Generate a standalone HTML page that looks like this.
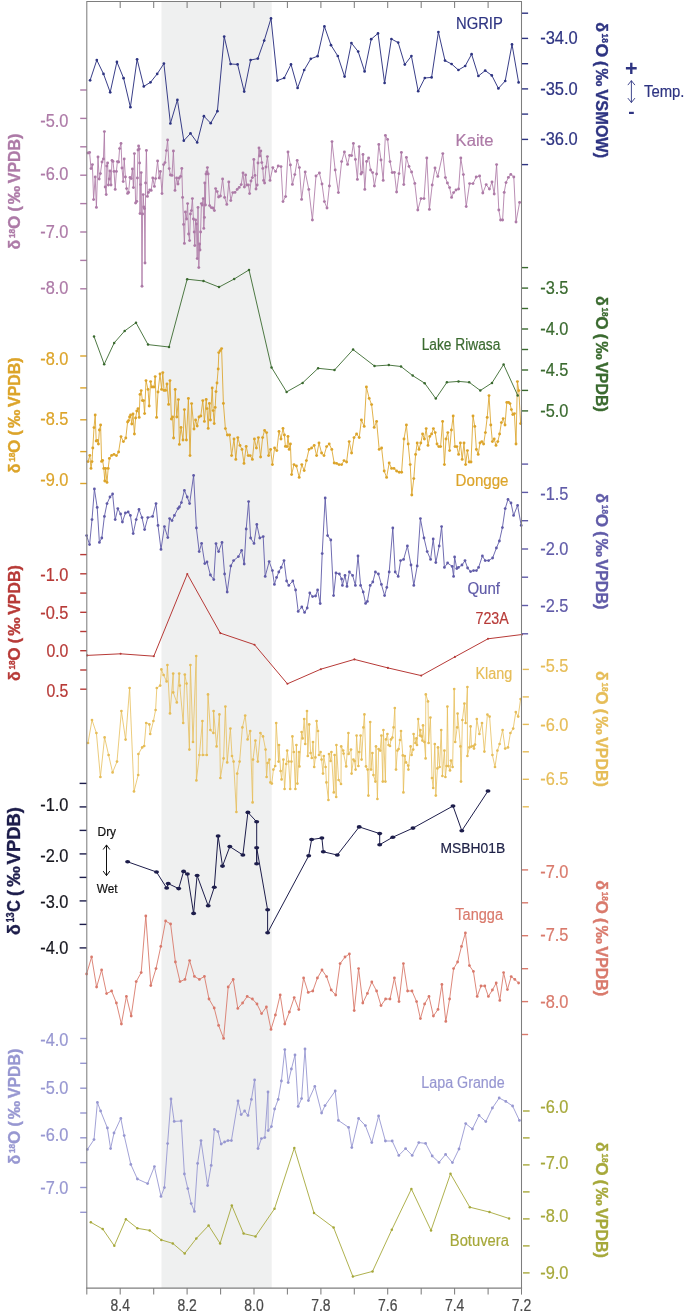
<!DOCTYPE html>
<html lang="en"><head><meta charset="utf-8"><title>Holocene 8.2 ka proxy records</title>
<style>html,body{margin:0;padding:0;background:#fff}svg{display:block}text{font-family:"Liberation Sans",sans-serif}.b{font-weight:bold}</style></head><body>
<svg width="685" height="1314" viewBox="0 0 685 1314">
<rect width="685" height="1314" fill="#fff"/>
<rect x="161.5" y="1.5" width="110.2" height="1286.6" fill="#eff0f0"/>
<polyline points="90.8,1222.3 102.7,1229.0 114.3,1245.8 125.9,1219.2 137.4,1228.3 149.7,1230.4 161.3,1239.9 172.8,1243.4 184.7,1253.5 196.3,1238.5 208.6,1225.5 220.1,1243.4 231.8,1205.5 243.6,1233.6 255.5,1236.4 274.5,1208.8 294.3,1148.0 314.0,1213.0 333.6,1227.6 352.9,1276.6 372.5,1271.4 391.8,1229.7 411.4,1189.0 431.0,1230.4 450.5,1173.8 469.8,1207.2 489.5,1212.1 509.1,1218.5" fill="none" stroke="#a6a83a" stroke-width="0.9" stroke-linejoin="round"/>
<g fill="#a6a83a">
<circle cx="90.8" cy="1222.3" r="1.25"/><circle cx="102.7" cy="1229.0" r="1.25"/><circle cx="114.3" cy="1245.8" r="1.25"/><circle cx="125.9" cy="1219.2" r="1.25"/><circle cx="137.4" cy="1228.3" r="1.25"/><circle cx="149.7" cy="1230.4" r="1.25"/><circle cx="161.3" cy="1239.9" r="1.25"/><circle cx="172.8" cy="1243.4" r="1.25"/><circle cx="184.7" cy="1253.5" r="1.25"/><circle cx="196.3" cy="1238.5" r="1.25"/><circle cx="208.6" cy="1225.5" r="1.25"/><circle cx="220.1" cy="1243.4" r="1.25"/><circle cx="231.8" cy="1205.5" r="1.25"/><circle cx="243.6" cy="1233.6" r="1.25"/><circle cx="255.5" cy="1236.4" r="1.25"/><circle cx="274.5" cy="1208.8" r="1.25"/><circle cx="294.3" cy="1148.0" r="1.25"/><circle cx="314.0" cy="1213.0" r="1.25"/><circle cx="333.6" cy="1227.6" r="1.25"/><circle cx="352.9" cy="1276.6" r="1.25"/><circle cx="372.5" cy="1271.4" r="1.25"/><circle cx="391.8" cy="1229.7" r="1.25"/><circle cx="411.4" cy="1189.0" r="1.25"/><circle cx="431.0" cy="1230.4" r="1.25"/><circle cx="450.5" cy="1173.8" r="1.25"/><circle cx="469.8" cy="1207.2" r="1.25"/><circle cx="489.5" cy="1212.1" r="1.25"/><circle cx="509.1" cy="1218.5" r="1.25"/>
</g>
<polyline points="87.4,1149.4 94.0,1139.6 97.4,1102.4 100.6,1111.0 107.4,1128.0 110.6,1148.6 114.0,1133.0 120.8,1118.4 124.2,1135.6 130.8,1164.4 137.4,1179.0 147.6,1183.6 154.4,1166.6 161.0,1196.4 164.4,1187.6 167.6,1143.6 171.0,1099.0 174.2,1121.4 181.2,1121.0 184.4,1174.0 187.8,1188.6 191.2,1203.6 194.4,1211.4 197.6,1163.4 201.0,1140.6 207.6,1185.6 211.2,1165.4 214.4,1129.4 218.0,1131.6 221.2,1144.0 224.6,1142.0 228.0,1140.6 231.4,1140.6 238.0,1101.0 241.2,1114.6 244.6,1111.0 248.0,1115.4 251.4,1099.4 254.6,1080.0 258.0,1148.6 261.4,1138.6 264.8,1137.6 268.0,1092.0 268.2,1130.6 271.4,1126.6 274.6,1109.0 278.2,1099.4 281.4,1081.0 284.8,1049.6 288.2,1082.6 291.4,1069.0 295.0,1055.0 298.2,1106.4 301.6,1098.6 305.0,1049.0 308.4,1100.6 314.8,1086.4 321.6,1113.0 325.0,1105.6 335.2,1091.0 338.4,1120.4 348.6,1127.4 351.8,1147.6 358.6,1118.4 365.4,1125.6 371.8,1142.6 378.6,1116.0 385.4,1141.0 392.2,1141.0 398.8,1155.4 405.6,1148.6 412.2,1155.4 418.8,1142.6 425.6,1143.4 432.2,1156.0 439.0,1162.4 445.6,1154.4 452.4,1162.6 459.0,1149.0 465.7,1123.6 472.4,1129.0 479.0,1115.4 485.8,1121.6 492.4,1108.0 499.2,1098.0 505.8,1101.4 512.6,1106.0 519.4,1120.4" fill="none" stroke="#9797d1" stroke-width="0.9" stroke-linejoin="round"/>
<g fill="#9797d1">
<circle cx="87.4" cy="1149.4" r="1.4"/><circle cx="94.0" cy="1139.6" r="1.4"/><circle cx="97.4" cy="1102.4" r="1.4"/><circle cx="100.6" cy="1111.0" r="1.4"/><circle cx="107.4" cy="1128.0" r="1.4"/><circle cx="110.6" cy="1148.6" r="1.4"/><circle cx="114.0" cy="1133.0" r="1.4"/><circle cx="120.8" cy="1118.4" r="1.4"/><circle cx="124.2" cy="1135.6" r="1.4"/><circle cx="130.8" cy="1164.4" r="1.4"/><circle cx="137.4" cy="1179.0" r="1.4"/><circle cx="147.6" cy="1183.6" r="1.4"/><circle cx="154.4" cy="1166.6" r="1.4"/><circle cx="161.0" cy="1196.4" r="1.4"/><circle cx="164.4" cy="1187.6" r="1.4"/><circle cx="167.6" cy="1143.6" r="1.4"/><circle cx="171.0" cy="1099.0" r="1.4"/><circle cx="174.2" cy="1121.4" r="1.4"/><circle cx="181.2" cy="1121.0" r="1.4"/><circle cx="184.4" cy="1174.0" r="1.4"/><circle cx="187.8" cy="1188.6" r="1.4"/><circle cx="191.2" cy="1203.6" r="1.4"/><circle cx="194.4" cy="1211.4" r="1.4"/><circle cx="197.6" cy="1163.4" r="1.4"/><circle cx="201.0" cy="1140.6" r="1.4"/><circle cx="207.6" cy="1185.6" r="1.4"/><circle cx="211.2" cy="1165.4" r="1.4"/><circle cx="214.4" cy="1129.4" r="1.4"/><circle cx="218.0" cy="1131.6" r="1.4"/><circle cx="221.2" cy="1144.0" r="1.4"/><circle cx="224.6" cy="1142.0" r="1.4"/><circle cx="228.0" cy="1140.6" r="1.4"/><circle cx="231.4" cy="1140.6" r="1.4"/><circle cx="238.0" cy="1101.0" r="1.4"/><circle cx="241.2" cy="1114.6" r="1.4"/><circle cx="244.6" cy="1111.0" r="1.4"/><circle cx="248.0" cy="1115.4" r="1.4"/><circle cx="251.4" cy="1099.4" r="1.4"/><circle cx="254.6" cy="1080.0" r="1.4"/><circle cx="258.0" cy="1148.6" r="1.4"/><circle cx="261.4" cy="1138.6" r="1.4"/><circle cx="264.8" cy="1137.6" r="1.4"/><circle cx="268.0" cy="1092.0" r="1.4"/><circle cx="268.2" cy="1130.6" r="1.4"/><circle cx="271.4" cy="1126.6" r="1.4"/><circle cx="274.6" cy="1109.0" r="1.4"/><circle cx="278.2" cy="1099.4" r="1.4"/><circle cx="281.4" cy="1081.0" r="1.4"/><circle cx="284.8" cy="1049.6" r="1.4"/><circle cx="288.2" cy="1082.6" r="1.4"/><circle cx="291.4" cy="1069.0" r="1.4"/><circle cx="295.0" cy="1055.0" r="1.4"/><circle cx="298.2" cy="1106.4" r="1.4"/><circle cx="301.6" cy="1098.6" r="1.4"/><circle cx="305.0" cy="1049.0" r="1.4"/><circle cx="308.4" cy="1100.6" r="1.4"/><circle cx="314.8" cy="1086.4" r="1.4"/><circle cx="321.6" cy="1113.0" r="1.4"/><circle cx="325.0" cy="1105.6" r="1.4"/><circle cx="335.2" cy="1091.0" r="1.4"/><circle cx="338.4" cy="1120.4" r="1.4"/><circle cx="348.6" cy="1127.4" r="1.4"/><circle cx="351.8" cy="1147.6" r="1.4"/><circle cx="358.6" cy="1118.4" r="1.4"/><circle cx="365.4" cy="1125.6" r="1.4"/><circle cx="371.8" cy="1142.6" r="1.4"/><circle cx="378.6" cy="1116.0" r="1.4"/><circle cx="385.4" cy="1141.0" r="1.4"/><circle cx="392.2" cy="1141.0" r="1.4"/><circle cx="398.8" cy="1155.4" r="1.4"/><circle cx="405.6" cy="1148.6" r="1.4"/><circle cx="412.2" cy="1155.4" r="1.4"/><circle cx="418.8" cy="1142.6" r="1.4"/><circle cx="425.6" cy="1143.4" r="1.4"/><circle cx="432.2" cy="1156.0" r="1.4"/><circle cx="439.0" cy="1162.4" r="1.4"/><circle cx="445.6" cy="1154.4" r="1.4"/><circle cx="452.4" cy="1162.6" r="1.4"/><circle cx="459.0" cy="1149.0" r="1.4"/><circle cx="465.7" cy="1123.6" r="1.4"/><circle cx="472.4" cy="1129.0" r="1.4"/><circle cx="479.0" cy="1115.4" r="1.4"/><circle cx="485.8" cy="1121.6" r="1.4"/><circle cx="492.4" cy="1108.0" r="1.4"/><circle cx="499.2" cy="1098.0" r="1.4"/><circle cx="505.8" cy="1101.4" r="1.4"/><circle cx="512.6" cy="1106.0" r="1.4"/><circle cx="519.4" cy="1120.4" r="1.4"/>
</g>
<polyline points="86.6,974.0 91.6,957.0 96.6,987.0 101.6,970.0 106.6,993.6 111.6,991.0 116.4,1003.0 121.4,1024.0 126.4,996.4 131.2,1016.0 136.2,981.6 141.2,972.6 145.8,916.0 150.8,985.6 156.0,968.6 160.8,946.4 165.6,921.0 170.6,924.0 175.4,962.0 180.0,981.6 185.0,979.4 189.6,960.6 194.4,976.4 199.4,979.4 204.4,976.4 209.0,999.0 214.2,1008.0 218.6,1025.4 223.6,1038.4 228.2,987.0 233.2,979.4 237.8,1008.4 242.6,1003.0 247.2,996.4 252.4,999.0 257.0,1004.0 261.6,1013.6 266.4,1007.0 271.0,1029.4 275.4,1015.0 280.2,995.0 284.8,1024.0 289.4,1012.0 294.2,997.6 298.8,1009.6 303.6,978.0 308.2,992.4 312.8,991.0 317.4,978.0 322.0,970.0 326.6,976.6 331.2,990.0 335.7,995.0 340.1,963.6 345.0,957.0 349.4,954.0 354.2,1010.6 358.6,968.6 362.8,1003.0 367.4,993.4 371.8,982.0 376.6,991.0 381.0,1005.6 385.6,999.0 390.0,999.0 394.4,978.0 399.0,1001.6 403.4,963.6 407.6,991.0 412.0,991.0 416.6,1001.6 420.4,1018.6 424.6,1004.0 429.0,996.4 433.4,1016.0 438.0,1009.4 441.9,984.4 445.8,1021.4 449.6,999.0 453.6,968.6 457.6,962.0 461.5,946.4 465.4,933.0 469.4,965.6 473.4,971.4 477.2,996.4 481.0,986.0 484.8,986.0 488.4,996.4 492.4,990.0 496.2,983.0 499.8,1000.4 503.6,972.6 507.4,989.6 511.2,976.6 514.8,979.4 518.6,983.0" fill="none" stroke="#d97a6c" stroke-width="0.9" stroke-linejoin="round"/>
<g fill="#d97a6c">
<circle cx="86.6" cy="974.0" r="1.4"/><circle cx="91.6" cy="957.0" r="1.4"/><circle cx="96.6" cy="987.0" r="1.4"/><circle cx="101.6" cy="970.0" r="1.4"/><circle cx="106.6" cy="993.6" r="1.4"/><circle cx="111.6" cy="991.0" r="1.4"/><circle cx="116.4" cy="1003.0" r="1.4"/><circle cx="121.4" cy="1024.0" r="1.4"/><circle cx="126.4" cy="996.4" r="1.4"/><circle cx="131.2" cy="1016.0" r="1.4"/><circle cx="136.2" cy="981.6" r="1.4"/><circle cx="141.2" cy="972.6" r="1.4"/><circle cx="145.8" cy="916.0" r="1.4"/><circle cx="150.8" cy="985.6" r="1.4"/><circle cx="156.0" cy="968.6" r="1.4"/><circle cx="160.8" cy="946.4" r="1.4"/><circle cx="165.6" cy="921.0" r="1.4"/><circle cx="170.6" cy="924.0" r="1.4"/><circle cx="175.4" cy="962.0" r="1.4"/><circle cx="180.0" cy="981.6" r="1.4"/><circle cx="185.0" cy="979.4" r="1.4"/><circle cx="189.6" cy="960.6" r="1.4"/><circle cx="194.4" cy="976.4" r="1.4"/><circle cx="199.4" cy="979.4" r="1.4"/><circle cx="204.4" cy="976.4" r="1.4"/><circle cx="209.0" cy="999.0" r="1.4"/><circle cx="214.2" cy="1008.0" r="1.4"/><circle cx="218.6" cy="1025.4" r="1.4"/><circle cx="223.6" cy="1038.4" r="1.4"/><circle cx="228.2" cy="987.0" r="1.4"/><circle cx="233.2" cy="979.4" r="1.4"/><circle cx="237.8" cy="1008.4" r="1.4"/><circle cx="242.6" cy="1003.0" r="1.4"/><circle cx="247.2" cy="996.4" r="1.4"/><circle cx="252.4" cy="999.0" r="1.4"/><circle cx="257.0" cy="1004.0" r="1.4"/><circle cx="261.6" cy="1013.6" r="1.4"/><circle cx="266.4" cy="1007.0" r="1.4"/><circle cx="271.0" cy="1029.4" r="1.4"/><circle cx="275.4" cy="1015.0" r="1.4"/><circle cx="280.2" cy="995.0" r="1.4"/><circle cx="284.8" cy="1024.0" r="1.4"/><circle cx="289.4" cy="1012.0" r="1.4"/><circle cx="294.2" cy="997.6" r="1.4"/><circle cx="298.8" cy="1009.6" r="1.4"/><circle cx="303.6" cy="978.0" r="1.4"/><circle cx="308.2" cy="992.4" r="1.4"/><circle cx="312.8" cy="991.0" r="1.4"/><circle cx="317.4" cy="978.0" r="1.4"/><circle cx="322.0" cy="970.0" r="1.4"/><circle cx="326.6" cy="976.6" r="1.4"/><circle cx="331.2" cy="990.0" r="1.4"/><circle cx="335.7" cy="995.0" r="1.4"/><circle cx="340.1" cy="963.6" r="1.4"/><circle cx="345.0" cy="957.0" r="1.4"/><circle cx="349.4" cy="954.0" r="1.4"/><circle cx="354.2" cy="1010.6" r="1.4"/><circle cx="358.6" cy="968.6" r="1.4"/><circle cx="362.8" cy="1003.0" r="1.4"/><circle cx="367.4" cy="993.4" r="1.4"/><circle cx="371.8" cy="982.0" r="1.4"/><circle cx="376.6" cy="991.0" r="1.4"/><circle cx="381.0" cy="1005.6" r="1.4"/><circle cx="385.6" cy="999.0" r="1.4"/><circle cx="390.0" cy="999.0" r="1.4"/><circle cx="394.4" cy="978.0" r="1.4"/><circle cx="399.0" cy="1001.6" r="1.4"/><circle cx="403.4" cy="963.6" r="1.4"/><circle cx="407.6" cy="991.0" r="1.4"/><circle cx="412.0" cy="991.0" r="1.4"/><circle cx="416.6" cy="1001.6" r="1.4"/><circle cx="420.4" cy="1018.6" r="1.4"/><circle cx="424.6" cy="1004.0" r="1.4"/><circle cx="429.0" cy="996.4" r="1.4"/><circle cx="433.4" cy="1016.0" r="1.4"/><circle cx="438.0" cy="1009.4" r="1.4"/><circle cx="441.9" cy="984.4" r="1.4"/><circle cx="445.8" cy="1021.4" r="1.4"/><circle cx="449.6" cy="999.0" r="1.4"/><circle cx="453.6" cy="968.6" r="1.4"/><circle cx="457.6" cy="962.0" r="1.4"/><circle cx="461.5" cy="946.4" r="1.4"/><circle cx="465.4" cy="933.0" r="1.4"/><circle cx="469.4" cy="965.6" r="1.4"/><circle cx="473.4" cy="971.4" r="1.4"/><circle cx="477.2" cy="996.4" r="1.4"/><circle cx="481.0" cy="986.0" r="1.4"/><circle cx="484.8" cy="986.0" r="1.4"/><circle cx="488.4" cy="996.4" r="1.4"/><circle cx="492.4" cy="990.0" r="1.4"/><circle cx="496.2" cy="983.0" r="1.4"/><circle cx="499.8" cy="1000.4" r="1.4"/><circle cx="503.6" cy="972.6" r="1.4"/><circle cx="507.4" cy="989.6" r="1.4"/><circle cx="511.2" cy="976.6" r="1.4"/><circle cx="514.8" cy="979.4" r="1.4"/><circle cx="518.6" cy="983.0" r="1.4"/>
</g>
<polyline points="88.0,743.0 92.0,720.0 96.4,733.0 100.4,777.0 104.6,737.4 108.6,755.0 112.6,772.4 117.0,761.6 121.4,711.0 125.6,739.6 129.6,688.0 134.0,791.4 138.2,775.0 138.4,754.0 142.2,747.4 144.2,746.0 146.2,723.0 149.4,724.4 150.2,734.0 153.4,721.0 155.6,710.0 156.8,688.0 160.2,685.6 161.4,669.4 163.6,675.0 166.6,681.4 167.4,665.0 170.0,713.4 173.2,673.6 173.2,692.4 176.8,702.4 179.2,673.6 179.8,685.6 183.2,723.0 184.8,674.6 186.6,683.6 189.4,749.6 190.4,665.0 193.0,742.0 196.2,656.0 196.4,780.4 199.4,755.0 202.4,721.0 202.8,755.0 206.8,755.0 208.0,694.4 210.4,730.0 213.4,733.0 213.6,711.0 216.6,746.4 219.4,714.4 220.4,778.0 223.6,758.4 225.4,706.6 227.2,762.4 230.4,728.6 232.0,756.0 233.6,761.6 236.4,812.0 237.2,773.6 239.6,761.6 242.4,727.4 245.2,715.6 247.6,739.4 250.2,731.0 252.6,802.4 253.0,759.6 255.4,740.6 257.8,761.6 260.4,733.0 263.0,736.4 265.6,749.6 266.6,777.0 267.6,763.0 269.4,759.6 270.4,782.4 271.8,783.6 273.4,769.6 275.2,766.0 276.2,723.0 278.6,761.6 279.0,745.0 280.6,771.0 281.6,779.4 283.4,759.6 284.6,789.0 286.2,764.0 287.2,750.6 288.6,761.6 290.2,789.0 291.4,761.6 292.4,736.4 293.8,752.0 295.4,789.0 296.4,745.0 297.4,783.6 299.0,752.0 299.4,766.4 301.6,732.0 302.6,738.4 304.2,719.0 305.2,744.0 307.0,711.0 307.8,756.0 309.2,724.4 310.6,753.0 311.8,758.0 313.0,742.0 314.2,767.0 315.4,757.4 316.6,721.0 318.0,731.0 319.0,755.0 320.6,752.0 321.6,759.6 323.0,773.6 323.8,756.0 325.6,767.0 326.4,782.4 328.4,800.0 329.0,754.0 330.6,761.0 331.4,752.0 333.8,792.4 334.6,755.0 336.2,797.0 336.4,745.0 338.6,780.0 341.0,784.0 341.2,746.4 343.2,750.6 343.6,753.6 346.2,766.4 348.4,733.0 348.6,754.0 351.0,749.6 351.6,773.6 353.4,759.6 354.6,761.0 355.6,769.6 356.6,735.6 358.4,766.0 359.2,752.0 360.6,735.6 361.6,759.6 363.4,727.4 364.4,714.4 366.0,766.4 367.6,769.6 368.4,795.6 370.2,722.0 371.0,769.6 372.4,753.0 373.4,775.0 375.4,781.6 376.0,746.4 377.4,799.0 378.6,749.0 380.2,750.6 381.4,735.6 382.8,781.6 383.4,730.0 385.4,781.6 386.0,739.4 387.4,734.0 388.6,745.0 390.0,746.0 391.0,739.4 392.4,737.6 393.6,727.4 394.8,708.0 396.0,769.6 397.4,750.6 398.6,749.0 400.0,740.0 401.0,731.0 402.8,755.4 403.4,792.4 404.8,756.0 406.0,762.4 408.2,765.6 408.4,769.6 410.6,746.4 411.6,755.0 413.2,749.6 413.6,734.0 415.4,743.0 416.4,738.4 417.0,745.0 418.2,719.0 420.0,735.6 420.4,730.0 421.6,736.4 422.4,740.6 423.0,725.4 424.4,742.0 425.6,758.4 425.8,694.4 428.0,701.4 428.6,743.0 430.4,717.6 432.0,778.0 433.2,788.0 434.8,744.0 435.8,795.6 437.4,768.4 438.0,747.4 439.6,767.0 441.2,730.0 442.4,776.0 444.4,750.6 445.4,777.0 446.6,766.0 447.4,706.6 448.4,766.0 450.0,770.4 451.0,760.6 452.6,767.0 454.2,689.0 455.2,742.0 457.2,727.4 457.6,713.6 460.4,746.4 461.0,781.6 462.4,720.0 464.4,703.6 465.6,723.0 467.4,687.0 467.4,756.0 469.4,747.4 470.6,726.4 471.4,746.6 473.4,746.0 474.0,748.6 475.0,744.6 476.8,719.0 479.4,734.0 482.0,723.0 484.4,751.6 487.4,714.6 489.6,716.6 492.4,755.0 495.0,767.0 497.4,750.6 499.6,744.0 502.6,730.0 505.2,748.6 508.0,747.4 510.4,733.0 513.2,728.6 515.8,712.0 518.2,716.6 520.6,699.0" fill="none" stroke="#e6bd58" stroke-width="0.78" stroke-linejoin="round"/>
<g fill="#e6bd58">
<circle cx="88.0" cy="743.0" r="1.35"/><circle cx="92.0" cy="720.0" r="1.35"/><circle cx="96.4" cy="733.0" r="1.35"/><circle cx="100.4" cy="777.0" r="1.35"/><circle cx="104.6" cy="737.4" r="1.35"/><circle cx="108.6" cy="755.0" r="1.35"/><circle cx="112.6" cy="772.4" r="1.35"/><circle cx="117.0" cy="761.6" r="1.35"/><circle cx="121.4" cy="711.0" r="1.35"/><circle cx="125.6" cy="739.6" r="1.35"/><circle cx="129.6" cy="688.0" r="1.35"/><circle cx="134.0" cy="791.4" r="1.35"/><circle cx="138.2" cy="775.0" r="1.35"/><circle cx="138.4" cy="754.0" r="1.35"/><circle cx="142.2" cy="747.4" r="1.35"/><circle cx="144.2" cy="746.0" r="1.35"/><circle cx="146.2" cy="723.0" r="1.35"/><circle cx="149.4" cy="724.4" r="1.35"/><circle cx="150.2" cy="734.0" r="1.35"/><circle cx="153.4" cy="721.0" r="1.35"/><circle cx="155.6" cy="710.0" r="1.35"/><circle cx="156.8" cy="688.0" r="1.35"/><circle cx="160.2" cy="685.6" r="1.35"/><circle cx="161.4" cy="669.4" r="1.35"/><circle cx="163.6" cy="675.0" r="1.35"/><circle cx="166.6" cy="681.4" r="1.35"/><circle cx="167.4" cy="665.0" r="1.35"/><circle cx="170.0" cy="713.4" r="1.35"/><circle cx="173.2" cy="673.6" r="1.35"/><circle cx="173.2" cy="692.4" r="1.35"/><circle cx="176.8" cy="702.4" r="1.35"/><circle cx="179.2" cy="673.6" r="1.35"/><circle cx="179.8" cy="685.6" r="1.35"/><circle cx="183.2" cy="723.0" r="1.35"/><circle cx="184.8" cy="674.6" r="1.35"/><circle cx="186.6" cy="683.6" r="1.35"/><circle cx="189.4" cy="749.6" r="1.35"/><circle cx="190.4" cy="665.0" r="1.35"/><circle cx="193.0" cy="742.0" r="1.35"/><circle cx="196.2" cy="656.0" r="1.35"/><circle cx="196.4" cy="780.4" r="1.35"/><circle cx="199.4" cy="755.0" r="1.35"/><circle cx="202.4" cy="721.0" r="1.35"/><circle cx="202.8" cy="755.0" r="1.35"/><circle cx="206.8" cy="755.0" r="1.35"/><circle cx="208.0" cy="694.4" r="1.35"/><circle cx="210.4" cy="730.0" r="1.35"/><circle cx="213.4" cy="733.0" r="1.35"/><circle cx="213.6" cy="711.0" r="1.35"/><circle cx="216.6" cy="746.4" r="1.35"/><circle cx="219.4" cy="714.4" r="1.35"/><circle cx="220.4" cy="778.0" r="1.35"/><circle cx="223.6" cy="758.4" r="1.35"/><circle cx="225.4" cy="706.6" r="1.35"/><circle cx="227.2" cy="762.4" r="1.35"/><circle cx="230.4" cy="728.6" r="1.35"/><circle cx="232.0" cy="756.0" r="1.35"/><circle cx="233.6" cy="761.6" r="1.35"/><circle cx="236.4" cy="812.0" r="1.35"/><circle cx="237.2" cy="773.6" r="1.35"/><circle cx="239.6" cy="761.6" r="1.35"/><circle cx="242.4" cy="727.4" r="1.35"/><circle cx="245.2" cy="715.6" r="1.35"/><circle cx="247.6" cy="739.4" r="1.35"/><circle cx="250.2" cy="731.0" r="1.35"/><circle cx="252.6" cy="802.4" r="1.35"/><circle cx="253.0" cy="759.6" r="1.35"/><circle cx="255.4" cy="740.6" r="1.35"/><circle cx="257.8" cy="761.6" r="1.35"/><circle cx="260.4" cy="733.0" r="1.35"/><circle cx="263.0" cy="736.4" r="1.35"/><circle cx="265.6" cy="749.6" r="1.35"/><circle cx="266.6" cy="777.0" r="1.35"/><circle cx="267.6" cy="763.0" r="1.35"/><circle cx="269.4" cy="759.6" r="1.35"/><circle cx="270.4" cy="782.4" r="1.35"/><circle cx="271.8" cy="783.6" r="1.35"/><circle cx="273.4" cy="769.6" r="1.35"/><circle cx="275.2" cy="766.0" r="1.35"/><circle cx="276.2" cy="723.0" r="1.35"/><circle cx="278.6" cy="761.6" r="1.35"/><circle cx="279.0" cy="745.0" r="1.35"/><circle cx="280.6" cy="771.0" r="1.35"/><circle cx="281.6" cy="779.4" r="1.35"/><circle cx="283.4" cy="759.6" r="1.35"/><circle cx="284.6" cy="789.0" r="1.35"/><circle cx="286.2" cy="764.0" r="1.35"/><circle cx="287.2" cy="750.6" r="1.35"/><circle cx="288.6" cy="761.6" r="1.35"/><circle cx="290.2" cy="789.0" r="1.35"/><circle cx="291.4" cy="761.6" r="1.35"/><circle cx="292.4" cy="736.4" r="1.35"/><circle cx="293.8" cy="752.0" r="1.35"/><circle cx="295.4" cy="789.0" r="1.35"/><circle cx="296.4" cy="745.0" r="1.35"/><circle cx="297.4" cy="783.6" r="1.35"/><circle cx="299.0" cy="752.0" r="1.35"/><circle cx="299.4" cy="766.4" r="1.35"/><circle cx="301.6" cy="732.0" r="1.35"/><circle cx="302.6" cy="738.4" r="1.35"/><circle cx="304.2" cy="719.0" r="1.35"/><circle cx="305.2" cy="744.0" r="1.35"/><circle cx="307.0" cy="711.0" r="1.35"/><circle cx="307.8" cy="756.0" r="1.35"/><circle cx="309.2" cy="724.4" r="1.35"/><circle cx="310.6" cy="753.0" r="1.35"/><circle cx="311.8" cy="758.0" r="1.35"/><circle cx="313.0" cy="742.0" r="1.35"/><circle cx="314.2" cy="767.0" r="1.35"/><circle cx="315.4" cy="757.4" r="1.35"/><circle cx="316.6" cy="721.0" r="1.35"/><circle cx="318.0" cy="731.0" r="1.35"/><circle cx="319.0" cy="755.0" r="1.35"/><circle cx="320.6" cy="752.0" r="1.35"/><circle cx="321.6" cy="759.6" r="1.35"/><circle cx="323.0" cy="773.6" r="1.35"/><circle cx="323.8" cy="756.0" r="1.35"/><circle cx="325.6" cy="767.0" r="1.35"/><circle cx="326.4" cy="782.4" r="1.35"/><circle cx="328.4" cy="800.0" r="1.35"/><circle cx="329.0" cy="754.0" r="1.35"/><circle cx="330.6" cy="761.0" r="1.35"/><circle cx="331.4" cy="752.0" r="1.35"/><circle cx="333.8" cy="792.4" r="1.35"/><circle cx="334.6" cy="755.0" r="1.35"/><circle cx="336.2" cy="797.0" r="1.35"/><circle cx="336.4" cy="745.0" r="1.35"/><circle cx="338.6" cy="780.0" r="1.35"/><circle cx="341.0" cy="784.0" r="1.35"/><circle cx="341.2" cy="746.4" r="1.35"/><circle cx="343.2" cy="750.6" r="1.35"/><circle cx="343.6" cy="753.6" r="1.35"/><circle cx="346.2" cy="766.4" r="1.35"/><circle cx="348.4" cy="733.0" r="1.35"/><circle cx="348.6" cy="754.0" r="1.35"/><circle cx="351.0" cy="749.6" r="1.35"/><circle cx="351.6" cy="773.6" r="1.35"/><circle cx="353.4" cy="759.6" r="1.35"/><circle cx="354.6" cy="761.0" r="1.35"/><circle cx="355.6" cy="769.6" r="1.35"/><circle cx="356.6" cy="735.6" r="1.35"/><circle cx="358.4" cy="766.0" r="1.35"/><circle cx="359.2" cy="752.0" r="1.35"/><circle cx="360.6" cy="735.6" r="1.35"/><circle cx="361.6" cy="759.6" r="1.35"/><circle cx="363.4" cy="727.4" r="1.35"/><circle cx="364.4" cy="714.4" r="1.35"/><circle cx="366.0" cy="766.4" r="1.35"/><circle cx="367.6" cy="769.6" r="1.35"/><circle cx="368.4" cy="795.6" r="1.35"/><circle cx="370.2" cy="722.0" r="1.35"/><circle cx="371.0" cy="769.6" r="1.35"/><circle cx="372.4" cy="753.0" r="1.35"/><circle cx="373.4" cy="775.0" r="1.35"/><circle cx="375.4" cy="781.6" r="1.35"/><circle cx="376.0" cy="746.4" r="1.35"/><circle cx="377.4" cy="799.0" r="1.35"/><circle cx="378.6" cy="749.0" r="1.35"/><circle cx="380.2" cy="750.6" r="1.35"/><circle cx="381.4" cy="735.6" r="1.35"/><circle cx="382.8" cy="781.6" r="1.35"/><circle cx="383.4" cy="730.0" r="1.35"/><circle cx="385.4" cy="781.6" r="1.35"/><circle cx="386.0" cy="739.4" r="1.35"/><circle cx="387.4" cy="734.0" r="1.35"/><circle cx="388.6" cy="745.0" r="1.35"/><circle cx="390.0" cy="746.0" r="1.35"/><circle cx="391.0" cy="739.4" r="1.35"/><circle cx="392.4" cy="737.6" r="1.35"/><circle cx="393.6" cy="727.4" r="1.35"/><circle cx="394.8" cy="708.0" r="1.35"/><circle cx="396.0" cy="769.6" r="1.35"/><circle cx="397.4" cy="750.6" r="1.35"/><circle cx="398.6" cy="749.0" r="1.35"/><circle cx="400.0" cy="740.0" r="1.35"/><circle cx="401.0" cy="731.0" r="1.35"/><circle cx="402.8" cy="755.4" r="1.35"/><circle cx="403.4" cy="792.4" r="1.35"/><circle cx="404.8" cy="756.0" r="1.35"/><circle cx="406.0" cy="762.4" r="1.35"/><circle cx="408.2" cy="765.6" r="1.35"/><circle cx="408.4" cy="769.6" r="1.35"/><circle cx="410.6" cy="746.4" r="1.35"/><circle cx="411.6" cy="755.0" r="1.35"/><circle cx="413.2" cy="749.6" r="1.35"/><circle cx="413.6" cy="734.0" r="1.35"/><circle cx="415.4" cy="743.0" r="1.35"/><circle cx="416.4" cy="738.4" r="1.35"/><circle cx="417.0" cy="745.0" r="1.35"/><circle cx="418.2" cy="719.0" r="1.35"/><circle cx="420.0" cy="735.6" r="1.35"/><circle cx="420.4" cy="730.0" r="1.35"/><circle cx="421.6" cy="736.4" r="1.35"/><circle cx="422.4" cy="740.6" r="1.35"/><circle cx="423.0" cy="725.4" r="1.35"/><circle cx="424.4" cy="742.0" r="1.35"/><circle cx="425.6" cy="758.4" r="1.35"/><circle cx="425.8" cy="694.4" r="1.35"/><circle cx="428.0" cy="701.4" r="1.35"/><circle cx="428.6" cy="743.0" r="1.35"/><circle cx="430.4" cy="717.6" r="1.35"/><circle cx="432.0" cy="778.0" r="1.35"/><circle cx="433.2" cy="788.0" r="1.35"/><circle cx="434.8" cy="744.0" r="1.35"/><circle cx="435.8" cy="795.6" r="1.35"/><circle cx="437.4" cy="768.4" r="1.35"/><circle cx="438.0" cy="747.4" r="1.35"/><circle cx="439.6" cy="767.0" r="1.35"/><circle cx="441.2" cy="730.0" r="1.35"/><circle cx="442.4" cy="776.0" r="1.35"/><circle cx="444.4" cy="750.6" r="1.35"/><circle cx="445.4" cy="777.0" r="1.35"/><circle cx="446.6" cy="766.0" r="1.35"/><circle cx="447.4" cy="706.6" r="1.35"/><circle cx="448.4" cy="766.0" r="1.35"/><circle cx="450.0" cy="770.4" r="1.35"/><circle cx="451.0" cy="760.6" r="1.35"/><circle cx="452.6" cy="767.0" r="1.35"/><circle cx="454.2" cy="689.0" r="1.35"/><circle cx="455.2" cy="742.0" r="1.35"/><circle cx="457.2" cy="727.4" r="1.35"/><circle cx="457.6" cy="713.6" r="1.35"/><circle cx="460.4" cy="746.4" r="1.35"/><circle cx="461.0" cy="781.6" r="1.35"/><circle cx="462.4" cy="720.0" r="1.35"/><circle cx="464.4" cy="703.6" r="1.35"/><circle cx="465.6" cy="723.0" r="1.35"/><circle cx="467.4" cy="687.0" r="1.35"/><circle cx="467.4" cy="756.0" r="1.35"/><circle cx="469.4" cy="747.4" r="1.35"/><circle cx="470.6" cy="726.4" r="1.35"/><circle cx="471.4" cy="746.6" r="1.35"/><circle cx="473.4" cy="746.0" r="1.35"/><circle cx="474.0" cy="748.6" r="1.35"/><circle cx="475.0" cy="744.6" r="1.35"/><circle cx="476.8" cy="719.0" r="1.35"/><circle cx="479.4" cy="734.0" r="1.35"/><circle cx="482.0" cy="723.0" r="1.35"/><circle cx="484.4" cy="751.6" r="1.35"/><circle cx="487.4" cy="714.6" r="1.35"/><circle cx="489.6" cy="716.6" r="1.35"/><circle cx="492.4" cy="755.0" r="1.35"/><circle cx="495.0" cy="767.0" r="1.35"/><circle cx="497.4" cy="750.6" r="1.35"/><circle cx="499.6" cy="744.0" r="1.35"/><circle cx="502.6" cy="730.0" r="1.35"/><circle cx="505.2" cy="748.6" r="1.35"/><circle cx="508.0" cy="747.4" r="1.35"/><circle cx="510.4" cy="733.0" r="1.35"/><circle cx="513.2" cy="728.6" r="1.35"/><circle cx="515.8" cy="712.0" r="1.35"/><circle cx="518.2" cy="716.6" r="1.35"/><circle cx="520.6" cy="699.0" r="1.35"/>
</g>
<polyline points="87.2,655.4 120.6,653.8 153.8,656.2 187.3,574.0 220.3,633.1 254.5,644.7 287.4,683.8 320.8,669.2 354.4,659.4 387.9,667.9 421.2,675.6 454.9,656.9 488.0,638.8 522.0,634.5" fill="none" stroke="#b73a37" stroke-width="1.0" stroke-linejoin="round"/>
<g fill="#b73a37">
<circle cx="87.2" cy="655.4" r="1.05"/><circle cx="120.6" cy="653.8" r="1.05"/><circle cx="153.8" cy="656.2" r="1.05"/><circle cx="187.3" cy="574.0" r="1.05"/><circle cx="220.3" cy="633.1" r="1.05"/><circle cx="254.5" cy="644.7" r="1.05"/><circle cx="287.4" cy="683.8" r="1.05"/><circle cx="320.8" cy="669.2" r="1.05"/><circle cx="354.4" cy="659.4" r="1.05"/><circle cx="387.9" cy="667.9" r="1.05"/><circle cx="421.2" cy="675.6" r="1.05"/><circle cx="454.9" cy="656.9" r="1.05"/><circle cx="488.0" cy="638.8" r="1.05"/><circle cx="522.0" cy="634.5" r="1.05"/>
</g>
<polyline points="86.6,535.6 89.6,544.6 92.0,519.6 94.4,489.0 97.2,507.4 99.4,542.4 101.8,538.0 104.4,516.4 107.0,503.6 110.0,497.0 112.6,494.0 115.2,519.6 117.8,508.6 120.6,514.0 122.4,522.0 125.4,513.0 128.2,512.0 130.4,515.4 133.2,533.6 136.2,519.6 139.0,509.4 142.0,517.6 144.6,529.6 147.8,517.6 152.6,516.4 156.0,503.6 158.0,525.4 161.0,549.4 164.4,526.6 167.8,537.6 169.6,518.6 172.0,520.6 174.4,515.4 178.0,508.6 179.4,507.0 181.4,502.6 184.4,490.4 187.2,497.0 189.6,503.6 193.6,475.4 196.4,528.0 199.2,551.6 201.6,543.4 204.8,563.6 207.0,562.0 210.4,575.0 213.8,579.6 216.0,543.6 218.6,551.6 222.0,542.4 224.6,574.0 227.2,592.0 230.8,566.0 233.6,560.6 238.4,556.6 241.6,550.4 244.2,564.0 246.2,529.0 248.6,501.6 250.6,538.0 254.0,543.4 256.8,524.4 259.8,538.0 263.2,536.6 265.2,576.4 269.2,561.6 272.4,570.6 274.4,584.4 276.6,577.4 278.8,572.0 281.2,567.4 284.0,560.6 286.6,581.0 288.8,585.4 292.8,581.0 295.6,590.0 298.2,611.4 301.8,607.0 304.6,612.4 307.2,608.0 309.8,593.0 312.6,596.6 315.6,596.0 317.6,590.0 320.2,603.6 322.2,553.6 325.2,498.0 327.6,535.6 330.8,540.0 333.6,595.6 336.0,573.0 339.4,574.0 341.6,579.0 342.4,585.4 345.0,575.4 347.0,586.4 349.4,572.0 352.6,575.4 355.4,585.4 358.0,556.0 360.6,585.4 363.2,592.0 365.6,603.4 367.4,601.4 370.2,585.4 372.8,582.0 375.4,572.0 378.4,574.0 381.4,584.4 384.6,595.6 386.8,587.4 389.2,572.0 392.8,528.0 395.2,572.0 398.2,576.4 400.6,560.6 403.6,559.4 407.4,546.0 411.0,565.0 413.8,585.4 417.2,566.0 420.4,518.6 424.0,538.0 427.2,551.6 430.6,559.4 433.2,539.0 435.8,562.6 439.2,546.0 441.6,526.6 444.4,567.4 447.6,563.0 452.2,566.4 453.6,576.4 454.6,557.0 456.8,568.6 458.4,567.4 462.0,565.0 465.0,560.6 467.6,568.0 470.6,571.6 473.6,570.6 476.4,570.6 478.6,567.4 482.4,556.0 485.2,560.6 488.6,560.6 492.6,558.0 496.4,548.0 499.4,541.0 502.4,527.6 505.2,508.6 508.0,499.4 511.0,503.0 513.6,515.4 517.6,505.4 521.2,525.4" fill="none" stroke="#605ba8" stroke-width="0.9" stroke-linejoin="round"/>
<g fill="#605ba8">
<circle cx="86.6" cy="535.6" r="1.4"/><circle cx="89.6" cy="544.6" r="1.4"/><circle cx="92.0" cy="519.6" r="1.4"/><circle cx="94.4" cy="489.0" r="1.4"/><circle cx="97.2" cy="507.4" r="1.4"/><circle cx="99.4" cy="542.4" r="1.4"/><circle cx="101.8" cy="538.0" r="1.4"/><circle cx="104.4" cy="516.4" r="1.4"/><circle cx="107.0" cy="503.6" r="1.4"/><circle cx="110.0" cy="497.0" r="1.4"/><circle cx="112.6" cy="494.0" r="1.4"/><circle cx="115.2" cy="519.6" r="1.4"/><circle cx="117.8" cy="508.6" r="1.4"/><circle cx="120.6" cy="514.0" r="1.4"/><circle cx="122.4" cy="522.0" r="1.4"/><circle cx="125.4" cy="513.0" r="1.4"/><circle cx="128.2" cy="512.0" r="1.4"/><circle cx="130.4" cy="515.4" r="1.4"/><circle cx="133.2" cy="533.6" r="1.4"/><circle cx="136.2" cy="519.6" r="1.4"/><circle cx="139.0" cy="509.4" r="1.4"/><circle cx="142.0" cy="517.6" r="1.4"/><circle cx="144.6" cy="529.6" r="1.4"/><circle cx="147.8" cy="517.6" r="1.4"/><circle cx="152.6" cy="516.4" r="1.4"/><circle cx="156.0" cy="503.6" r="1.4"/><circle cx="158.0" cy="525.4" r="1.4"/><circle cx="161.0" cy="549.4" r="1.4"/><circle cx="164.4" cy="526.6" r="1.4"/><circle cx="167.8" cy="537.6" r="1.4"/><circle cx="169.6" cy="518.6" r="1.4"/><circle cx="172.0" cy="520.6" r="1.4"/><circle cx="174.4" cy="515.4" r="1.4"/><circle cx="178.0" cy="508.6" r="1.4"/><circle cx="179.4" cy="507.0" r="1.4"/><circle cx="181.4" cy="502.6" r="1.4"/><circle cx="184.4" cy="490.4" r="1.4"/><circle cx="187.2" cy="497.0" r="1.4"/><circle cx="189.6" cy="503.6" r="1.4"/><circle cx="193.6" cy="475.4" r="1.4"/><circle cx="196.4" cy="528.0" r="1.4"/><circle cx="199.2" cy="551.6" r="1.4"/><circle cx="201.6" cy="543.4" r="1.4"/><circle cx="204.8" cy="563.6" r="1.4"/><circle cx="207.0" cy="562.0" r="1.4"/><circle cx="210.4" cy="575.0" r="1.4"/><circle cx="213.8" cy="579.6" r="1.4"/><circle cx="216.0" cy="543.6" r="1.4"/><circle cx="218.6" cy="551.6" r="1.4"/><circle cx="222.0" cy="542.4" r="1.4"/><circle cx="224.6" cy="574.0" r="1.4"/><circle cx="227.2" cy="592.0" r="1.4"/><circle cx="230.8" cy="566.0" r="1.4"/><circle cx="233.6" cy="560.6" r="1.4"/><circle cx="238.4" cy="556.6" r="1.4"/><circle cx="241.6" cy="550.4" r="1.4"/><circle cx="244.2" cy="564.0" r="1.4"/><circle cx="246.2" cy="529.0" r="1.4"/><circle cx="248.6" cy="501.6" r="1.4"/><circle cx="250.6" cy="538.0" r="1.4"/><circle cx="254.0" cy="543.4" r="1.4"/><circle cx="256.8" cy="524.4" r="1.4"/><circle cx="259.8" cy="538.0" r="1.4"/><circle cx="263.2" cy="536.6" r="1.4"/><circle cx="265.2" cy="576.4" r="1.4"/><circle cx="269.2" cy="561.6" r="1.4"/><circle cx="272.4" cy="570.6" r="1.4"/><circle cx="274.4" cy="584.4" r="1.4"/><circle cx="276.6" cy="577.4" r="1.4"/><circle cx="278.8" cy="572.0" r="1.4"/><circle cx="281.2" cy="567.4" r="1.4"/><circle cx="284.0" cy="560.6" r="1.4"/><circle cx="286.6" cy="581.0" r="1.4"/><circle cx="288.8" cy="585.4" r="1.4"/><circle cx="292.8" cy="581.0" r="1.4"/><circle cx="295.6" cy="590.0" r="1.4"/><circle cx="298.2" cy="611.4" r="1.4"/><circle cx="301.8" cy="607.0" r="1.4"/><circle cx="304.6" cy="612.4" r="1.4"/><circle cx="307.2" cy="608.0" r="1.4"/><circle cx="309.8" cy="593.0" r="1.4"/><circle cx="312.6" cy="596.6" r="1.4"/><circle cx="315.6" cy="596.0" r="1.4"/><circle cx="317.6" cy="590.0" r="1.4"/><circle cx="320.2" cy="603.6" r="1.4"/><circle cx="322.2" cy="553.6" r="1.4"/><circle cx="325.2" cy="498.0" r="1.4"/><circle cx="327.6" cy="535.6" r="1.4"/><circle cx="330.8" cy="540.0" r="1.4"/><circle cx="333.6" cy="595.6" r="1.4"/><circle cx="336.0" cy="573.0" r="1.4"/><circle cx="339.4" cy="574.0" r="1.4"/><circle cx="341.6" cy="579.0" r="1.4"/><circle cx="342.4" cy="585.4" r="1.4"/><circle cx="345.0" cy="575.4" r="1.4"/><circle cx="347.0" cy="586.4" r="1.4"/><circle cx="349.4" cy="572.0" r="1.4"/><circle cx="352.6" cy="575.4" r="1.4"/><circle cx="355.4" cy="585.4" r="1.4"/><circle cx="358.0" cy="556.0" r="1.4"/><circle cx="360.6" cy="585.4" r="1.4"/><circle cx="363.2" cy="592.0" r="1.4"/><circle cx="365.6" cy="603.4" r="1.4"/><circle cx="367.4" cy="601.4" r="1.4"/><circle cx="370.2" cy="585.4" r="1.4"/><circle cx="372.8" cy="582.0" r="1.4"/><circle cx="375.4" cy="572.0" r="1.4"/><circle cx="378.4" cy="574.0" r="1.4"/><circle cx="381.4" cy="584.4" r="1.4"/><circle cx="384.6" cy="595.6" r="1.4"/><circle cx="386.8" cy="587.4" r="1.4"/><circle cx="389.2" cy="572.0" r="1.4"/><circle cx="392.8" cy="528.0" r="1.4"/><circle cx="395.2" cy="572.0" r="1.4"/><circle cx="398.2" cy="576.4" r="1.4"/><circle cx="400.6" cy="560.6" r="1.4"/><circle cx="403.6" cy="559.4" r="1.4"/><circle cx="407.4" cy="546.0" r="1.4"/><circle cx="411.0" cy="565.0" r="1.4"/><circle cx="413.8" cy="585.4" r="1.4"/><circle cx="417.2" cy="566.0" r="1.4"/><circle cx="420.4" cy="518.6" r="1.4"/><circle cx="424.0" cy="538.0" r="1.4"/><circle cx="427.2" cy="551.6" r="1.4"/><circle cx="430.6" cy="559.4" r="1.4"/><circle cx="433.2" cy="539.0" r="1.4"/><circle cx="435.8" cy="562.6" r="1.4"/><circle cx="439.2" cy="546.0" r="1.4"/><circle cx="441.6" cy="526.6" r="1.4"/><circle cx="444.4" cy="567.4" r="1.4"/><circle cx="447.6" cy="563.0" r="1.4"/><circle cx="452.2" cy="566.4" r="1.4"/><circle cx="453.6" cy="576.4" r="1.4"/><circle cx="454.6" cy="557.0" r="1.4"/><circle cx="456.8" cy="568.6" r="1.4"/><circle cx="458.4" cy="567.4" r="1.4"/><circle cx="462.0" cy="565.0" r="1.4"/><circle cx="465.0" cy="560.6" r="1.4"/><circle cx="467.6" cy="568.0" r="1.4"/><circle cx="470.6" cy="571.6" r="1.4"/><circle cx="473.6" cy="570.6" r="1.4"/><circle cx="476.4" cy="570.6" r="1.4"/><circle cx="478.6" cy="567.4" r="1.4"/><circle cx="482.4" cy="556.0" r="1.4"/><circle cx="485.2" cy="560.6" r="1.4"/><circle cx="488.6" cy="560.6" r="1.4"/><circle cx="492.6" cy="558.0" r="1.4"/><circle cx="496.4" cy="548.0" r="1.4"/><circle cx="499.4" cy="541.0" r="1.4"/><circle cx="502.4" cy="527.6" r="1.4"/><circle cx="505.2" cy="508.6" r="1.4"/><circle cx="508.0" cy="499.4" r="1.4"/><circle cx="511.0" cy="503.0" r="1.4"/><circle cx="513.6" cy="515.4" r="1.4"/><circle cx="517.6" cy="505.4" r="1.4"/><circle cx="521.2" cy="525.4" r="1.4"/>
</g>
<polyline points="88.0,461.6 89.8,455.4 91.0,468.4 92.0,461.6 92.8,448.0 94.0,427.6 95.2,415.0 96.2,441.0 97.4,440.4 98.4,444.0 99.4,430.0 100.6,425.0 101.6,461.4 102.6,460.4 103.8,468.4 104.8,481.0 105.6,468.4 107.0,482.4 108.2,468.4 109.4,458.4 111.6,455.4 114.0,454.4 116.4,455.6 118.6,452.0 121.0,436.6 123.4,441.6 125.8,438.0 127.6,422.0 128.6,420.6 129.6,417.0 130.6,415.0 131.8,424.0 133.0,414.0 134.4,434.0 135.6,418.0 136.8,411.0 138.0,408.6 139.2,417.4 140.0,394.4 141.2,390.6 142.4,400.6 143.6,400.6 144.6,413.6 146.0,380.6 148.0,389.4 149.2,406.0 150.6,381.6 152.0,387.0 154.0,387.0 155.2,376.6 156.6,417.4 158.0,392.0 160.0,374.0 161.6,389.4 162.8,372.6 164.0,390.4 165.6,390.4 167.0,384.0 168.6,404.4 170.0,380.6 171.4,419.0 172.6,417.0 173.6,438.0 175.2,389.4 176.8,417.0 178.4,399.6 179.4,444.4 181.0,427.4 183.0,440.0 184.4,409.6 186.4,440.0 188.4,398.4 190.0,455.6 191.6,403.6 194.0,429.0 195.6,420.0 197.2,426.0 199.0,417.0 200.8,416.0 202.8,400.6 204.4,421.4 206.2,399.4 207.0,408.6 208.2,428.4 209.4,403.4 210.4,420.0 212.2,388.0 213.2,410.6 214.2,423.6 215.2,407.4 216.0,391.6 217.0,383.0 218.2,369.0 218.8,352.6 220.2,350.6 221.6,348.6 223.4,403.4 225.4,428.6 227.4,435.0 229.6,435.0 231.6,455.6 234.0,439.0 235.8,459.4 237.8,437.6 240.0,445.4 242.0,449.4 244.0,463.4 246.2,446.4 248.2,455.6 250.2,455.6 252.4,459.4 254.4,439.0 256.4,448.0 258.4,437.6 260.6,457.0 262.6,437.6 264.6,430.4 266.6,432.6 268.6,455.6 270.6,449.4 272.4,464.6 274.6,448.0 276.8,450.6 279.0,431.4 281.0,439.0 283.0,428.4 284.4,435.0 285.4,446.4 287.0,446.6 288.0,436.4 289.2,449.4 290.4,444.0 291.6,474.6 294.0,464.6 296.4,466.0 299.2,477.4 301.8,464.6 304.2,470.6 306.4,460.6 309.0,449.4 311.6,448.0 314.2,445.4 316.6,455.6 319.0,443.0 321.6,453.0 324.0,455.6 326.6,446.6 329.2,444.0 331.8,449.4 334.2,463.0 336.6,463.4 339.0,464.6 341.6,464.6 344.0,460.6 346.6,462.0 349.2,441.6 351.6,453.0 354.0,437.6 356.6,434.0 359.2,437.6 361.4,420.0 364.2,426.4 366.4,387.0 369.2,398.4 371.6,404.6 374.2,427.4 376.6,421.4 379.2,449.4 381.6,448.0 384.2,471.0 386.6,477.4 389.2,463.0 391.6,468.4 394.0,468.4 396.6,471.0 399.2,472.2 401.6,472.2 404.0,439.0 406.4,425.0 408.2,444.0 410.2,464.6 411.8,495.0 413.8,478.6 415.6,454.4 417.2,443.0 419.0,449.4 420.8,443.0 422.6,434.0 424.4,439.0 426.2,428.6 428.0,445.4 429.8,436.4 431.6,434.0 433.4,428.6 435.2,432.6 437.0,444.0 438.8,446.6 440.6,446.6 442.6,421.4 444.4,464.6 446.0,439.0 447.8,432.6 449.6,450.6 451.4,430.0 453.2,416.0 455.0,446.6 456.8,446.6 458.6,454.4 460.4,443.0 462.2,459.4 464.0,443.0 465.6,464.6 467.4,450.6 469.2,462.0 471.0,462.0 473.0,416.0 474.8,426.4 476.4,449.4 478.2,454.4 480.0,443.0 481.8,441.6 483.6,444.0 485.4,432.6 487.2,417.4 489.0,395.6 490.8,425.0 492.4,441.6 494.2,439.0 496.0,445.4 497.8,441.6 499.6,434.0 501.4,422.6 503.2,418.6 505.0,425.0 506.8,402.4 508.6,402.4 510.0,403.6 511.4,409.6 512.8,414.6 514.4,413.6 516.0,444.0 517.4,381.6 518.8,390.6 520.6,423.6" fill="none" stroke="#dca42a" stroke-width="0.85" stroke-linejoin="round"/>
<g fill="#dca42a">
<circle cx="88.0" cy="461.6" r="1.45"/><circle cx="89.8" cy="455.4" r="1.45"/><circle cx="91.0" cy="468.4" r="1.45"/><circle cx="92.0" cy="461.6" r="1.45"/><circle cx="92.8" cy="448.0" r="1.45"/><circle cx="94.0" cy="427.6" r="1.45"/><circle cx="95.2" cy="415.0" r="1.45"/><circle cx="96.2" cy="441.0" r="1.45"/><circle cx="97.4" cy="440.4" r="1.45"/><circle cx="98.4" cy="444.0" r="1.45"/><circle cx="99.4" cy="430.0" r="1.45"/><circle cx="100.6" cy="425.0" r="1.45"/><circle cx="101.6" cy="461.4" r="1.45"/><circle cx="102.6" cy="460.4" r="1.45"/><circle cx="103.8" cy="468.4" r="1.45"/><circle cx="104.8" cy="481.0" r="1.45"/><circle cx="105.6" cy="468.4" r="1.45"/><circle cx="107.0" cy="482.4" r="1.45"/><circle cx="108.2" cy="468.4" r="1.45"/><circle cx="109.4" cy="458.4" r="1.45"/><circle cx="111.6" cy="455.4" r="1.45"/><circle cx="114.0" cy="454.4" r="1.45"/><circle cx="116.4" cy="455.6" r="1.45"/><circle cx="118.6" cy="452.0" r="1.45"/><circle cx="121.0" cy="436.6" r="1.45"/><circle cx="123.4" cy="441.6" r="1.45"/><circle cx="125.8" cy="438.0" r="1.45"/><circle cx="127.6" cy="422.0" r="1.45"/><circle cx="128.6" cy="420.6" r="1.45"/><circle cx="129.6" cy="417.0" r="1.45"/><circle cx="130.6" cy="415.0" r="1.45"/><circle cx="131.8" cy="424.0" r="1.45"/><circle cx="133.0" cy="414.0" r="1.45"/><circle cx="134.4" cy="434.0" r="1.45"/><circle cx="135.6" cy="418.0" r="1.45"/><circle cx="136.8" cy="411.0" r="1.45"/><circle cx="138.0" cy="408.6" r="1.45"/><circle cx="139.2" cy="417.4" r="1.45"/><circle cx="140.0" cy="394.4" r="1.45"/><circle cx="141.2" cy="390.6" r="1.45"/><circle cx="142.4" cy="400.6" r="1.45"/><circle cx="143.6" cy="400.6" r="1.45"/><circle cx="144.6" cy="413.6" r="1.45"/><circle cx="146.0" cy="380.6" r="1.45"/><circle cx="148.0" cy="389.4" r="1.45"/><circle cx="149.2" cy="406.0" r="1.45"/><circle cx="150.6" cy="381.6" r="1.45"/><circle cx="152.0" cy="387.0" r="1.45"/><circle cx="154.0" cy="387.0" r="1.45"/><circle cx="155.2" cy="376.6" r="1.45"/><circle cx="156.6" cy="417.4" r="1.45"/><circle cx="158.0" cy="392.0" r="1.45"/><circle cx="160.0" cy="374.0" r="1.45"/><circle cx="161.6" cy="389.4" r="1.45"/><circle cx="162.8" cy="372.6" r="1.45"/><circle cx="164.0" cy="390.4" r="1.45"/><circle cx="165.6" cy="390.4" r="1.45"/><circle cx="167.0" cy="384.0" r="1.45"/><circle cx="168.6" cy="404.4" r="1.45"/><circle cx="170.0" cy="380.6" r="1.45"/><circle cx="171.4" cy="419.0" r="1.45"/><circle cx="172.6" cy="417.0" r="1.45"/><circle cx="173.6" cy="438.0" r="1.45"/><circle cx="175.2" cy="389.4" r="1.45"/><circle cx="176.8" cy="417.0" r="1.45"/><circle cx="178.4" cy="399.6" r="1.45"/><circle cx="179.4" cy="444.4" r="1.45"/><circle cx="181.0" cy="427.4" r="1.45"/><circle cx="183.0" cy="440.0" r="1.45"/><circle cx="184.4" cy="409.6" r="1.45"/><circle cx="186.4" cy="440.0" r="1.45"/><circle cx="188.4" cy="398.4" r="1.45"/><circle cx="190.0" cy="455.6" r="1.45"/><circle cx="191.6" cy="403.6" r="1.45"/><circle cx="194.0" cy="429.0" r="1.45"/><circle cx="195.6" cy="420.0" r="1.45"/><circle cx="197.2" cy="426.0" r="1.45"/><circle cx="199.0" cy="417.0" r="1.45"/><circle cx="200.8" cy="416.0" r="1.45"/><circle cx="202.8" cy="400.6" r="1.45"/><circle cx="204.4" cy="421.4" r="1.45"/><circle cx="206.2" cy="399.4" r="1.45"/><circle cx="207.0" cy="408.6" r="1.45"/><circle cx="208.2" cy="428.4" r="1.45"/><circle cx="209.4" cy="403.4" r="1.45"/><circle cx="210.4" cy="420.0" r="1.45"/><circle cx="212.2" cy="388.0" r="1.45"/><circle cx="213.2" cy="410.6" r="1.45"/><circle cx="214.2" cy="423.6" r="1.45"/><circle cx="215.2" cy="407.4" r="1.45"/><circle cx="216.0" cy="391.6" r="1.45"/><circle cx="217.0" cy="383.0" r="1.45"/><circle cx="218.2" cy="369.0" r="1.45"/><circle cx="218.8" cy="352.6" r="1.45"/><circle cx="220.2" cy="350.6" r="1.45"/><circle cx="221.6" cy="348.6" r="1.45"/><circle cx="223.4" cy="403.4" r="1.45"/><circle cx="225.4" cy="428.6" r="1.45"/><circle cx="227.4" cy="435.0" r="1.45"/><circle cx="229.6" cy="435.0" r="1.45"/><circle cx="231.6" cy="455.6" r="1.45"/><circle cx="234.0" cy="439.0" r="1.45"/><circle cx="235.8" cy="459.4" r="1.45"/><circle cx="237.8" cy="437.6" r="1.45"/><circle cx="240.0" cy="445.4" r="1.45"/><circle cx="242.0" cy="449.4" r="1.45"/><circle cx="244.0" cy="463.4" r="1.45"/><circle cx="246.2" cy="446.4" r="1.45"/><circle cx="248.2" cy="455.6" r="1.45"/><circle cx="250.2" cy="455.6" r="1.45"/><circle cx="252.4" cy="459.4" r="1.45"/><circle cx="254.4" cy="439.0" r="1.45"/><circle cx="256.4" cy="448.0" r="1.45"/><circle cx="258.4" cy="437.6" r="1.45"/><circle cx="260.6" cy="457.0" r="1.45"/><circle cx="262.6" cy="437.6" r="1.45"/><circle cx="264.6" cy="430.4" r="1.45"/><circle cx="266.6" cy="432.6" r="1.45"/><circle cx="268.6" cy="455.6" r="1.45"/><circle cx="270.6" cy="449.4" r="1.45"/><circle cx="272.4" cy="464.6" r="1.45"/><circle cx="274.6" cy="448.0" r="1.45"/><circle cx="276.8" cy="450.6" r="1.45"/><circle cx="279.0" cy="431.4" r="1.45"/><circle cx="281.0" cy="439.0" r="1.45"/><circle cx="283.0" cy="428.4" r="1.45"/><circle cx="284.4" cy="435.0" r="1.45"/><circle cx="285.4" cy="446.4" r="1.45"/><circle cx="287.0" cy="446.6" r="1.45"/><circle cx="288.0" cy="436.4" r="1.45"/><circle cx="289.2" cy="449.4" r="1.45"/><circle cx="290.4" cy="444.0" r="1.45"/><circle cx="291.6" cy="474.6" r="1.45"/><circle cx="294.0" cy="464.6" r="1.45"/><circle cx="296.4" cy="466.0" r="1.45"/><circle cx="299.2" cy="477.4" r="1.45"/><circle cx="301.8" cy="464.6" r="1.45"/><circle cx="304.2" cy="470.6" r="1.45"/><circle cx="306.4" cy="460.6" r="1.45"/><circle cx="309.0" cy="449.4" r="1.45"/><circle cx="311.6" cy="448.0" r="1.45"/><circle cx="314.2" cy="445.4" r="1.45"/><circle cx="316.6" cy="455.6" r="1.45"/><circle cx="319.0" cy="443.0" r="1.45"/><circle cx="321.6" cy="453.0" r="1.45"/><circle cx="324.0" cy="455.6" r="1.45"/><circle cx="326.6" cy="446.6" r="1.45"/><circle cx="329.2" cy="444.0" r="1.45"/><circle cx="331.8" cy="449.4" r="1.45"/><circle cx="334.2" cy="463.0" r="1.45"/><circle cx="336.6" cy="463.4" r="1.45"/><circle cx="339.0" cy="464.6" r="1.45"/><circle cx="341.6" cy="464.6" r="1.45"/><circle cx="344.0" cy="460.6" r="1.45"/><circle cx="346.6" cy="462.0" r="1.45"/><circle cx="349.2" cy="441.6" r="1.45"/><circle cx="351.6" cy="453.0" r="1.45"/><circle cx="354.0" cy="437.6" r="1.45"/><circle cx="356.6" cy="434.0" r="1.45"/><circle cx="359.2" cy="437.6" r="1.45"/><circle cx="361.4" cy="420.0" r="1.45"/><circle cx="364.2" cy="426.4" r="1.45"/><circle cx="366.4" cy="387.0" r="1.45"/><circle cx="369.2" cy="398.4" r="1.45"/><circle cx="371.6" cy="404.6" r="1.45"/><circle cx="374.2" cy="427.4" r="1.45"/><circle cx="376.6" cy="421.4" r="1.45"/><circle cx="379.2" cy="449.4" r="1.45"/><circle cx="381.6" cy="448.0" r="1.45"/><circle cx="384.2" cy="471.0" r="1.45"/><circle cx="386.6" cy="477.4" r="1.45"/><circle cx="389.2" cy="463.0" r="1.45"/><circle cx="391.6" cy="468.4" r="1.45"/><circle cx="394.0" cy="468.4" r="1.45"/><circle cx="396.6" cy="471.0" r="1.45"/><circle cx="399.2" cy="472.2" r="1.45"/><circle cx="401.6" cy="472.2" r="1.45"/><circle cx="404.0" cy="439.0" r="1.45"/><circle cx="406.4" cy="425.0" r="1.45"/><circle cx="408.2" cy="444.0" r="1.45"/><circle cx="410.2" cy="464.6" r="1.45"/><circle cx="411.8" cy="495.0" r="1.45"/><circle cx="413.8" cy="478.6" r="1.45"/><circle cx="415.6" cy="454.4" r="1.45"/><circle cx="417.2" cy="443.0" r="1.45"/><circle cx="419.0" cy="449.4" r="1.45"/><circle cx="420.8" cy="443.0" r="1.45"/><circle cx="422.6" cy="434.0" r="1.45"/><circle cx="424.4" cy="439.0" r="1.45"/><circle cx="426.2" cy="428.6" r="1.45"/><circle cx="428.0" cy="445.4" r="1.45"/><circle cx="429.8" cy="436.4" r="1.45"/><circle cx="431.6" cy="434.0" r="1.45"/><circle cx="433.4" cy="428.6" r="1.45"/><circle cx="435.2" cy="432.6" r="1.45"/><circle cx="437.0" cy="444.0" r="1.45"/><circle cx="438.8" cy="446.6" r="1.45"/><circle cx="440.6" cy="446.6" r="1.45"/><circle cx="442.6" cy="421.4" r="1.45"/><circle cx="444.4" cy="464.6" r="1.45"/><circle cx="446.0" cy="439.0" r="1.45"/><circle cx="447.8" cy="432.6" r="1.45"/><circle cx="449.6" cy="450.6" r="1.45"/><circle cx="451.4" cy="430.0" r="1.45"/><circle cx="453.2" cy="416.0" r="1.45"/><circle cx="455.0" cy="446.6" r="1.45"/><circle cx="456.8" cy="446.6" r="1.45"/><circle cx="458.6" cy="454.4" r="1.45"/><circle cx="460.4" cy="443.0" r="1.45"/><circle cx="462.2" cy="459.4" r="1.45"/><circle cx="464.0" cy="443.0" r="1.45"/><circle cx="465.6" cy="464.6" r="1.45"/><circle cx="467.4" cy="450.6" r="1.45"/><circle cx="469.2" cy="462.0" r="1.45"/><circle cx="471.0" cy="462.0" r="1.45"/><circle cx="473.0" cy="416.0" r="1.45"/><circle cx="474.8" cy="426.4" r="1.45"/><circle cx="476.4" cy="449.4" r="1.45"/><circle cx="478.2" cy="454.4" r="1.45"/><circle cx="480.0" cy="443.0" r="1.45"/><circle cx="481.8" cy="441.6" r="1.45"/><circle cx="483.6" cy="444.0" r="1.45"/><circle cx="485.4" cy="432.6" r="1.45"/><circle cx="487.2" cy="417.4" r="1.45"/><circle cx="489.0" cy="395.6" r="1.45"/><circle cx="490.8" cy="425.0" r="1.45"/><circle cx="492.4" cy="441.6" r="1.45"/><circle cx="494.2" cy="439.0" r="1.45"/><circle cx="496.0" cy="445.4" r="1.45"/><circle cx="497.8" cy="441.6" r="1.45"/><circle cx="499.6" cy="434.0" r="1.45"/><circle cx="501.4" cy="422.6" r="1.45"/><circle cx="503.2" cy="418.6" r="1.45"/><circle cx="505.0" cy="425.0" r="1.45"/><circle cx="506.8" cy="402.4" r="1.45"/><circle cx="508.6" cy="402.4" r="1.45"/><circle cx="510.0" cy="403.6" r="1.45"/><circle cx="511.4" cy="409.6" r="1.45"/><circle cx="512.8" cy="414.6" r="1.45"/><circle cx="514.4" cy="413.6" r="1.45"/><circle cx="516.0" cy="444.0" r="1.45"/><circle cx="517.4" cy="381.6" r="1.45"/><circle cx="518.8" cy="390.6" r="1.45"/><circle cx="520.6" cy="423.6" r="1.45"/>
</g>
<polyline points="94.0,336.5 104.2,364.2 114.2,342.9 124.7,330.9 136.0,322.7 148.0,344.6 169.0,347.0 187.2,279.2 203.5,281.0 219.0,287.1 234.2,279.0 249.0,269.9 271.5,367.4 286.6,391.9 302.6,382.9 318.1,368.3 334.5,370.0 353.1,349.6 374.5,366.0 388.8,365.1 401.0,366.5 412.7,375.6 424.7,383.2 435.8,398.6 446.9,382.3 458.5,381.4 469.2,382.3 480.3,390.5 492.0,382.9 503.6,364.5 517.7,395.4" fill="none" stroke="#3a6a2f" stroke-width="0.9" stroke-linejoin="round"/>
<g fill="#3a6a2f">
<circle cx="94.0" cy="336.5" r="1.25"/><circle cx="104.2" cy="364.2" r="1.25"/><circle cx="114.2" cy="342.9" r="1.25"/><circle cx="124.7" cy="330.9" r="1.25"/><circle cx="136.0" cy="322.7" r="1.25"/><circle cx="148.0" cy="344.6" r="1.25"/><circle cx="169.0" cy="347.0" r="1.25"/><circle cx="187.2" cy="279.2" r="1.25"/><circle cx="203.5" cy="281.0" r="1.25"/><circle cx="219.0" cy="287.1" r="1.25"/><circle cx="234.2" cy="279.0" r="1.25"/><circle cx="249.0" cy="269.9" r="1.25"/><circle cx="271.5" cy="367.4" r="1.25"/><circle cx="286.6" cy="391.9" r="1.25"/><circle cx="302.6" cy="382.9" r="1.25"/><circle cx="318.1" cy="368.3" r="1.25"/><circle cx="334.5" cy="370.0" r="1.25"/><circle cx="353.1" cy="349.6" r="1.25"/><circle cx="374.5" cy="366.0" r="1.25"/><circle cx="388.8" cy="365.1" r="1.25"/><circle cx="401.0" cy="366.5" r="1.25"/><circle cx="412.7" cy="375.6" r="1.25"/><circle cx="424.7" cy="383.2" r="1.25"/><circle cx="435.8" cy="398.6" r="1.25"/><circle cx="446.9" cy="382.3" r="1.25"/><circle cx="458.5" cy="381.4" r="1.25"/><circle cx="469.2" cy="382.3" r="1.25"/><circle cx="480.3" cy="390.5" r="1.25"/><circle cx="492.0" cy="382.9" r="1.25"/><circle cx="503.6" cy="364.5" r="1.25"/><circle cx="517.7" cy="395.4" r="1.25"/>
</g>
<polyline points="88.0,153.0 89.6,152.4 91.0,168.6 92.4,164.6 93.6,199.6 95.2,177.0 96.4,207.4 98.0,157.0 99.2,179.0 100.4,173.6 102.0,162.0 103.4,159.0 104.4,131.6 105.2,187.0 106.2,194.6 106.8,166.0 107.6,163.0 108.4,185.0 109.2,179.0 110.0,171.0 111.0,185.0 112.0,160.4 113.0,161.4 114.0,171.4 115.2,189.4 116.4,171.4 117.4,161.6 118.6,162.0 119.6,148.6 121.0,143.4 122.0,168.0 123.2,181.6 124.2,159.0 125.4,177.0 126.6,188.6 127.6,193.4 128.6,192.4 130.0,177.4 131.2,178.6 132.4,169.0 133.4,187.6 134.4,153.6 135.6,203.0 136.8,201.4 137.4,178.0 138.0,150.0 138.6,146.0 139.2,149.0 139.6,163.0 140.0,213.6 140.6,184.6 141.2,172.6 142.0,286.2 142.6,214.0 143.2,194.6 143.8,207.0 144.4,208.6 145.0,263.0 145.6,183.0 146.4,150.4 147.4,196.4 148.4,192.4 149.8,190.0 151.2,190.4 152.8,178.0 154.4,186.4 155.6,178.6 157.6,161.0 159.2,178.0 160.4,171.4 162.0,193.6 163.6,164.6 165.0,162.6 166.4,150.6 167.6,140.0 169.2,168.6 170.4,175.0 172.0,175.4 173.4,151.0 175.0,190.4 176.6,178.0 178.0,184.0 179.2,178.0 180.6,176.4 181.8,168.4 182.6,197.4 183.6,224.4 184.4,243.4 185.4,212.0 186.6,219.0 187.6,203.6 188.6,234.0 189.6,240.6 190.4,214.0 191.4,210.6 192.4,198.6 193.4,219.0 194.2,232.0 194.8,245.6 195.6,220.0 196.4,224.0 197.2,258.6 198.0,207.4 198.8,267.6 199.6,244.0 200.0,250.0 200.6,232.0 201.4,203.6 202.2,205.0 203.2,198.6 203.8,228.4 204.4,217.4 204.8,183.0 205.4,205.0 206.0,174.0 206.8,172.0 207.4,167.6 208.2,174.0 209.6,205.6 211.2,207.6 212.8,208.0 214.4,210.6 215.6,188.6 217.2,191.6 218.6,197.0 220.4,196.0 222.6,179.0 224.6,197.4 226.8,204.4 228.8,182.0 230.8,200.6 232.8,192.6 235.0,192.4 237.2,189.4 239.2,187.4 241.2,184.6 243.0,173.0 244.4,187.0 245.6,175.0 246.8,185.0 248.4,185.0 249.6,193.6 251.0,181.0 252.4,177.6 253.8,159.4 255.0,175.4 256.0,189.0 257.2,185.0 258.0,163.0 259.0,148.0 259.8,156.0 260.8,151.0 261.8,162.6 262.8,168.4 263.6,180.4 264.6,183.0 266.0,167.0 267.4,156.6 270.0,180.4 272.8,167.6 275.6,171.4 278.2,166.0 281.0,166.6 283.0,201.6 285.6,196.6 288.0,152.0 290.4,165.0 292.4,184.4 294.8,174.6 297.2,160.4 299.4,167.6 301.6,199.4 305.2,172.0 308.8,189.4 312.4,220.0 316.0,176.0 319.4,173.0 322.0,184.0 324.4,201.6 327.0,208.0 329.4,186.0 332.0,141.6 335.2,170.0 338.4,192.6 341.6,161.6 344.4,152.0 347.6,164.4 349.6,155.4 351.6,155.6 353.4,143.4 355.4,159.4 357.4,179.4 359.2,146.6 361.0,174.0 362.0,172.4 363.0,154.4 364.8,189.4 366.6,161.4 368.6,158.0 370.6,170.0 372.6,172.6 374.4,186.0 376.6,174.0 378.8,144.4 381.0,160.0 383.2,180.4 385.4,135.4 387.6,139.4 390.0,161.6 392.2,172.6 394.4,172.4 396.6,192.0 399.0,173.6 401.4,152.4 403.8,184.6 406.4,157.4 409.0,166.4 411.6,172.0 414.8,183.4 417.8,210.0 421.0,198.6 424.0,198.6 426.8,158.0 429.4,209.4 432.2,185.0 435.0,168.0 437.8,176.4 442.8,153.6 445.4,177.6 447.4,183.0 449.6,187.6 451.6,197.4 453.6,192.6 456.0,190.0 458.6,189.0 460.8,158.0 463.4,174.6 466.2,206.6 469.6,183.6 473.0,183.6 476.2,177.0 479.6,176.0 482.8,193.0 486.2,184.6 489.4,189.0 492.0,182.0 494.2,194.0 496.6,164.6 498.8,210.0 500.6,220.0 502.6,220.0 504.2,192.4 506.0,182.6 508.4,177.4 510.8,174.4 513.8,177.0 516.0,222.0 519.6,202.4" fill="none" stroke="#ad7aa7" stroke-width="0.85" stroke-linejoin="round"/>
<g fill="#ad7aa7">
<circle cx="88.0" cy="153.0" r="1.45"/><circle cx="89.6" cy="152.4" r="1.45"/><circle cx="91.0" cy="168.6" r="1.45"/><circle cx="92.4" cy="164.6" r="1.45"/><circle cx="93.6" cy="199.6" r="1.45"/><circle cx="95.2" cy="177.0" r="1.45"/><circle cx="96.4" cy="207.4" r="1.45"/><circle cx="98.0" cy="157.0" r="1.45"/><circle cx="99.2" cy="179.0" r="1.45"/><circle cx="100.4" cy="173.6" r="1.45"/><circle cx="102.0" cy="162.0" r="1.45"/><circle cx="103.4" cy="159.0" r="1.45"/><circle cx="104.4" cy="131.6" r="1.45"/><circle cx="105.2" cy="187.0" r="1.45"/><circle cx="106.2" cy="194.6" r="1.45"/><circle cx="106.8" cy="166.0" r="1.45"/><circle cx="107.6" cy="163.0" r="1.45"/><circle cx="108.4" cy="185.0" r="1.45"/><circle cx="109.2" cy="179.0" r="1.45"/><circle cx="110.0" cy="171.0" r="1.45"/><circle cx="111.0" cy="185.0" r="1.45"/><circle cx="112.0" cy="160.4" r="1.45"/><circle cx="113.0" cy="161.4" r="1.45"/><circle cx="114.0" cy="171.4" r="1.45"/><circle cx="115.2" cy="189.4" r="1.45"/><circle cx="116.4" cy="171.4" r="1.45"/><circle cx="117.4" cy="161.6" r="1.45"/><circle cx="118.6" cy="162.0" r="1.45"/><circle cx="119.6" cy="148.6" r="1.45"/><circle cx="121.0" cy="143.4" r="1.45"/><circle cx="122.0" cy="168.0" r="1.45"/><circle cx="123.2" cy="181.6" r="1.45"/><circle cx="124.2" cy="159.0" r="1.45"/><circle cx="125.4" cy="177.0" r="1.45"/><circle cx="126.6" cy="188.6" r="1.45"/><circle cx="127.6" cy="193.4" r="1.45"/><circle cx="128.6" cy="192.4" r="1.45"/><circle cx="130.0" cy="177.4" r="1.45"/><circle cx="131.2" cy="178.6" r="1.45"/><circle cx="132.4" cy="169.0" r="1.45"/><circle cx="133.4" cy="187.6" r="1.45"/><circle cx="134.4" cy="153.6" r="1.45"/><circle cx="135.6" cy="203.0" r="1.45"/><circle cx="136.8" cy="201.4" r="1.45"/><circle cx="137.4" cy="178.0" r="1.45"/><circle cx="138.0" cy="150.0" r="1.45"/><circle cx="138.6" cy="146.0" r="1.45"/><circle cx="139.2" cy="149.0" r="1.45"/><circle cx="139.6" cy="163.0" r="1.45"/><circle cx="140.0" cy="213.6" r="1.45"/><circle cx="140.6" cy="184.6" r="1.45"/><circle cx="141.2" cy="172.6" r="1.45"/><circle cx="142.0" cy="286.2" r="1.45"/><circle cx="142.6" cy="214.0" r="1.45"/><circle cx="143.2" cy="194.6" r="1.45"/><circle cx="143.8" cy="207.0" r="1.45"/><circle cx="144.4" cy="208.6" r="1.45"/><circle cx="145.0" cy="263.0" r="1.45"/><circle cx="145.6" cy="183.0" r="1.45"/><circle cx="146.4" cy="150.4" r="1.45"/><circle cx="147.4" cy="196.4" r="1.45"/><circle cx="148.4" cy="192.4" r="1.45"/><circle cx="149.8" cy="190.0" r="1.45"/><circle cx="151.2" cy="190.4" r="1.45"/><circle cx="152.8" cy="178.0" r="1.45"/><circle cx="154.4" cy="186.4" r="1.45"/><circle cx="155.6" cy="178.6" r="1.45"/><circle cx="157.6" cy="161.0" r="1.45"/><circle cx="159.2" cy="178.0" r="1.45"/><circle cx="160.4" cy="171.4" r="1.45"/><circle cx="162.0" cy="193.6" r="1.45"/><circle cx="163.6" cy="164.6" r="1.45"/><circle cx="165.0" cy="162.6" r="1.45"/><circle cx="166.4" cy="150.6" r="1.45"/><circle cx="167.6" cy="140.0" r="1.45"/><circle cx="169.2" cy="168.6" r="1.45"/><circle cx="170.4" cy="175.0" r="1.45"/><circle cx="172.0" cy="175.4" r="1.45"/><circle cx="173.4" cy="151.0" r="1.45"/><circle cx="175.0" cy="190.4" r="1.45"/><circle cx="176.6" cy="178.0" r="1.45"/><circle cx="178.0" cy="184.0" r="1.45"/><circle cx="179.2" cy="178.0" r="1.45"/><circle cx="180.6" cy="176.4" r="1.45"/><circle cx="181.8" cy="168.4" r="1.45"/><circle cx="182.6" cy="197.4" r="1.45"/><circle cx="183.6" cy="224.4" r="1.45"/><circle cx="184.4" cy="243.4" r="1.45"/><circle cx="185.4" cy="212.0" r="1.45"/><circle cx="186.6" cy="219.0" r="1.45"/><circle cx="187.6" cy="203.6" r="1.45"/><circle cx="188.6" cy="234.0" r="1.45"/><circle cx="189.6" cy="240.6" r="1.45"/><circle cx="190.4" cy="214.0" r="1.45"/><circle cx="191.4" cy="210.6" r="1.45"/><circle cx="192.4" cy="198.6" r="1.45"/><circle cx="193.4" cy="219.0" r="1.45"/><circle cx="194.2" cy="232.0" r="1.45"/><circle cx="194.8" cy="245.6" r="1.45"/><circle cx="195.6" cy="220.0" r="1.45"/><circle cx="196.4" cy="224.0" r="1.45"/><circle cx="197.2" cy="258.6" r="1.45"/><circle cx="198.0" cy="207.4" r="1.45"/><circle cx="198.8" cy="267.6" r="1.45"/><circle cx="199.6" cy="244.0" r="1.45"/><circle cx="200.0" cy="250.0" r="1.45"/><circle cx="200.6" cy="232.0" r="1.45"/><circle cx="201.4" cy="203.6" r="1.45"/><circle cx="202.2" cy="205.0" r="1.45"/><circle cx="203.2" cy="198.6" r="1.45"/><circle cx="203.8" cy="228.4" r="1.45"/><circle cx="204.4" cy="217.4" r="1.45"/><circle cx="204.8" cy="183.0" r="1.45"/><circle cx="205.4" cy="205.0" r="1.45"/><circle cx="206.0" cy="174.0" r="1.45"/><circle cx="206.8" cy="172.0" r="1.45"/><circle cx="207.4" cy="167.6" r="1.45"/><circle cx="208.2" cy="174.0" r="1.45"/><circle cx="209.6" cy="205.6" r="1.45"/><circle cx="211.2" cy="207.6" r="1.45"/><circle cx="212.8" cy="208.0" r="1.45"/><circle cx="214.4" cy="210.6" r="1.45"/><circle cx="215.6" cy="188.6" r="1.45"/><circle cx="217.2" cy="191.6" r="1.45"/><circle cx="218.6" cy="197.0" r="1.45"/><circle cx="220.4" cy="196.0" r="1.45"/><circle cx="222.6" cy="179.0" r="1.45"/><circle cx="224.6" cy="197.4" r="1.45"/><circle cx="226.8" cy="204.4" r="1.45"/><circle cx="228.8" cy="182.0" r="1.45"/><circle cx="230.8" cy="200.6" r="1.45"/><circle cx="232.8" cy="192.6" r="1.45"/><circle cx="235.0" cy="192.4" r="1.45"/><circle cx="237.2" cy="189.4" r="1.45"/><circle cx="239.2" cy="187.4" r="1.45"/><circle cx="241.2" cy="184.6" r="1.45"/><circle cx="243.0" cy="173.0" r="1.45"/><circle cx="244.4" cy="187.0" r="1.45"/><circle cx="245.6" cy="175.0" r="1.45"/><circle cx="246.8" cy="185.0" r="1.45"/><circle cx="248.4" cy="185.0" r="1.45"/><circle cx="249.6" cy="193.6" r="1.45"/><circle cx="251.0" cy="181.0" r="1.45"/><circle cx="252.4" cy="177.6" r="1.45"/><circle cx="253.8" cy="159.4" r="1.45"/><circle cx="255.0" cy="175.4" r="1.45"/><circle cx="256.0" cy="189.0" r="1.45"/><circle cx="257.2" cy="185.0" r="1.45"/><circle cx="258.0" cy="163.0" r="1.45"/><circle cx="259.0" cy="148.0" r="1.45"/><circle cx="259.8" cy="156.0" r="1.45"/><circle cx="260.8" cy="151.0" r="1.45"/><circle cx="261.8" cy="162.6" r="1.45"/><circle cx="262.8" cy="168.4" r="1.45"/><circle cx="263.6" cy="180.4" r="1.45"/><circle cx="264.6" cy="183.0" r="1.45"/><circle cx="266.0" cy="167.0" r="1.45"/><circle cx="267.4" cy="156.6" r="1.45"/><circle cx="270.0" cy="180.4" r="1.45"/><circle cx="272.8" cy="167.6" r="1.45"/><circle cx="275.6" cy="171.4" r="1.45"/><circle cx="278.2" cy="166.0" r="1.45"/><circle cx="281.0" cy="166.6" r="1.45"/><circle cx="283.0" cy="201.6" r="1.45"/><circle cx="285.6" cy="196.6" r="1.45"/><circle cx="288.0" cy="152.0" r="1.45"/><circle cx="290.4" cy="165.0" r="1.45"/><circle cx="292.4" cy="184.4" r="1.45"/><circle cx="294.8" cy="174.6" r="1.45"/><circle cx="297.2" cy="160.4" r="1.45"/><circle cx="299.4" cy="167.6" r="1.45"/><circle cx="301.6" cy="199.4" r="1.45"/><circle cx="305.2" cy="172.0" r="1.45"/><circle cx="308.8" cy="189.4" r="1.45"/><circle cx="312.4" cy="220.0" r="1.45"/><circle cx="316.0" cy="176.0" r="1.45"/><circle cx="319.4" cy="173.0" r="1.45"/><circle cx="322.0" cy="184.0" r="1.45"/><circle cx="324.4" cy="201.6" r="1.45"/><circle cx="327.0" cy="208.0" r="1.45"/><circle cx="329.4" cy="186.0" r="1.45"/><circle cx="332.0" cy="141.6" r="1.45"/><circle cx="335.2" cy="170.0" r="1.45"/><circle cx="338.4" cy="192.6" r="1.45"/><circle cx="341.6" cy="161.6" r="1.45"/><circle cx="344.4" cy="152.0" r="1.45"/><circle cx="347.6" cy="164.4" r="1.45"/><circle cx="349.6" cy="155.4" r="1.45"/><circle cx="351.6" cy="155.6" r="1.45"/><circle cx="353.4" cy="143.4" r="1.45"/><circle cx="355.4" cy="159.4" r="1.45"/><circle cx="357.4" cy="179.4" r="1.45"/><circle cx="359.2" cy="146.6" r="1.45"/><circle cx="361.0" cy="174.0" r="1.45"/><circle cx="362.0" cy="172.4" r="1.45"/><circle cx="363.0" cy="154.4" r="1.45"/><circle cx="364.8" cy="189.4" r="1.45"/><circle cx="366.6" cy="161.4" r="1.45"/><circle cx="368.6" cy="158.0" r="1.45"/><circle cx="370.6" cy="170.0" r="1.45"/><circle cx="372.6" cy="172.6" r="1.45"/><circle cx="374.4" cy="186.0" r="1.45"/><circle cx="376.6" cy="174.0" r="1.45"/><circle cx="378.8" cy="144.4" r="1.45"/><circle cx="381.0" cy="160.0" r="1.45"/><circle cx="383.2" cy="180.4" r="1.45"/><circle cx="385.4" cy="135.4" r="1.45"/><circle cx="387.6" cy="139.4" r="1.45"/><circle cx="390.0" cy="161.6" r="1.45"/><circle cx="392.2" cy="172.6" r="1.45"/><circle cx="394.4" cy="172.4" r="1.45"/><circle cx="396.6" cy="192.0" r="1.45"/><circle cx="399.0" cy="173.6" r="1.45"/><circle cx="401.4" cy="152.4" r="1.45"/><circle cx="403.8" cy="184.6" r="1.45"/><circle cx="406.4" cy="157.4" r="1.45"/><circle cx="409.0" cy="166.4" r="1.45"/><circle cx="411.6" cy="172.0" r="1.45"/><circle cx="414.8" cy="183.4" r="1.45"/><circle cx="417.8" cy="210.0" r="1.45"/><circle cx="421.0" cy="198.6" r="1.45"/><circle cx="424.0" cy="198.6" r="1.45"/><circle cx="426.8" cy="158.0" r="1.45"/><circle cx="429.4" cy="209.4" r="1.45"/><circle cx="432.2" cy="185.0" r="1.45"/><circle cx="435.0" cy="168.0" r="1.45"/><circle cx="437.8" cy="176.4" r="1.45"/><circle cx="442.8" cy="153.6" r="1.45"/><circle cx="445.4" cy="177.6" r="1.45"/><circle cx="447.4" cy="183.0" r="1.45"/><circle cx="449.6" cy="187.6" r="1.45"/><circle cx="451.6" cy="197.4" r="1.45"/><circle cx="453.6" cy="192.6" r="1.45"/><circle cx="456.0" cy="190.0" r="1.45"/><circle cx="458.6" cy="189.0" r="1.45"/><circle cx="460.8" cy="158.0" r="1.45"/><circle cx="463.4" cy="174.6" r="1.45"/><circle cx="466.2" cy="206.6" r="1.45"/><circle cx="469.6" cy="183.6" r="1.45"/><circle cx="473.0" cy="183.6" r="1.45"/><circle cx="476.2" cy="177.0" r="1.45"/><circle cx="479.6" cy="176.0" r="1.45"/><circle cx="482.8" cy="193.0" r="1.45"/><circle cx="486.2" cy="184.6" r="1.45"/><circle cx="489.4" cy="189.0" r="1.45"/><circle cx="492.0" cy="182.0" r="1.45"/><circle cx="494.2" cy="194.0" r="1.45"/><circle cx="496.6" cy="164.6" r="1.45"/><circle cx="498.8" cy="210.0" r="1.45"/><circle cx="500.6" cy="220.0" r="1.45"/><circle cx="502.6" cy="220.0" r="1.45"/><circle cx="504.2" cy="192.4" r="1.45"/><circle cx="506.0" cy="182.6" r="1.45"/><circle cx="508.4" cy="177.4" r="1.45"/><circle cx="510.8" cy="174.4" r="1.45"/><circle cx="513.8" cy="177.0" r="1.45"/><circle cx="516.0" cy="222.0" r="1.45"/><circle cx="519.6" cy="202.4" r="1.45"/>
</g>
<polyline points="90.1,80.3 96.8,60.1 103.5,73.9 110.2,92.3 116.9,61.9 123.6,78.2 130.4,107.2 137.1,59.3 143.8,86.4 150.5,82.3 157.2,73.9 163.9,63.6 170.4,123.5 177.4,99.9 183.8,140.7 190.5,133.4 197.2,142.5 203.9,116.2 210.7,123.2 217.4,111.2 224.2,36.6 230.6,64.0 237.6,64.4 244.2,91.6 250.6,60.0 257.8,58.6 264.2,40.6 271.0,18.4 277.4,80.6 284.2,78.0 291.0,64.4 297.6,88.0 304.2,70.0 310.8,58.8 317.6,56.2 324.4,26.4 331.0,45.2 337.8,56.0 344.6,76.6 351.4,43.0 358.2,51.6 364.6,71.4 371.2,39.2 378.0,33.4 384.6,83.0 391.4,39.0 398.2,42.6 404.8,64.6 411.4,56.0 418.2,91.2 424.8,78.0 431.6,77.4 438.4,32.0 445.0,60.6 451.6,64.0 458.4,70.0 465.2,66.0 471.6,54.2 478.4,76.0 485.2,70.6 491.8,75.4 498.4,88.4 505.2,81.0 512.0,44.4 518.6,82.4" fill="none" stroke="#2e3482" stroke-width="0.95" stroke-linejoin="round"/>
<g fill="#2e3482">
<circle cx="90.1" cy="80.3" r="1.35"/><circle cx="96.8" cy="60.1" r="1.35"/><circle cx="103.5" cy="73.9" r="1.35"/><circle cx="110.2" cy="92.3" r="1.35"/><circle cx="116.9" cy="61.9" r="1.35"/><circle cx="123.6" cy="78.2" r="1.35"/><circle cx="130.4" cy="107.2" r="1.35"/><circle cx="137.1" cy="59.3" r="1.35"/><circle cx="143.8" cy="86.4" r="1.35"/><circle cx="150.5" cy="82.3" r="1.35"/><circle cx="157.2" cy="73.9" r="1.35"/><circle cx="163.9" cy="63.6" r="1.35"/><circle cx="170.4" cy="123.5" r="1.35"/><circle cx="177.4" cy="99.9" r="1.35"/><circle cx="183.8" cy="140.7" r="1.35"/><circle cx="190.5" cy="133.4" r="1.35"/><circle cx="197.2" cy="142.5" r="1.35"/><circle cx="203.9" cy="116.2" r="1.35"/><circle cx="210.7" cy="123.2" r="1.35"/><circle cx="217.4" cy="111.2" r="1.35"/><circle cx="224.2" cy="36.6" r="1.35"/><circle cx="230.6" cy="64.0" r="1.35"/><circle cx="237.6" cy="64.4" r="1.35"/><circle cx="244.2" cy="91.6" r="1.35"/><circle cx="250.6" cy="60.0" r="1.35"/><circle cx="257.8" cy="58.6" r="1.35"/><circle cx="264.2" cy="40.6" r="1.35"/><circle cx="271.0" cy="18.4" r="1.35"/><circle cx="277.4" cy="80.6" r="1.35"/><circle cx="284.2" cy="78.0" r="1.35"/><circle cx="291.0" cy="64.4" r="1.35"/><circle cx="297.6" cy="88.0" r="1.35"/><circle cx="304.2" cy="70.0" r="1.35"/><circle cx="310.8" cy="58.8" r="1.35"/><circle cx="317.6" cy="56.2" r="1.35"/><circle cx="324.4" cy="26.4" r="1.35"/><circle cx="331.0" cy="45.2" r="1.35"/><circle cx="337.8" cy="56.0" r="1.35"/><circle cx="344.6" cy="76.6" r="1.35"/><circle cx="351.4" cy="43.0" r="1.35"/><circle cx="358.2" cy="51.6" r="1.35"/><circle cx="364.6" cy="71.4" r="1.35"/><circle cx="371.2" cy="39.2" r="1.35"/><circle cx="378.0" cy="33.4" r="1.35"/><circle cx="384.6" cy="83.0" r="1.35"/><circle cx="391.4" cy="39.0" r="1.35"/><circle cx="398.2" cy="42.6" r="1.35"/><circle cx="404.8" cy="64.6" r="1.35"/><circle cx="411.4" cy="56.0" r="1.35"/><circle cx="418.2" cy="91.2" r="1.35"/><circle cx="424.8" cy="78.0" r="1.35"/><circle cx="431.6" cy="77.4" r="1.35"/><circle cx="438.4" cy="32.0" r="1.35"/><circle cx="445.0" cy="60.6" r="1.35"/><circle cx="451.6" cy="64.0" r="1.35"/><circle cx="458.4" cy="70.0" r="1.35"/><circle cx="465.2" cy="66.0" r="1.35"/><circle cx="471.6" cy="54.2" r="1.35"/><circle cx="478.4" cy="76.0" r="1.35"/><circle cx="485.2" cy="70.6" r="1.35"/><circle cx="491.8" cy="75.4" r="1.35"/><circle cx="498.4" cy="88.4" r="1.35"/><circle cx="505.2" cy="81.0" r="1.35"/><circle cx="512.0" cy="44.4" r="1.35"/><circle cx="518.6" cy="82.4" r="1.35"/>
</g>
<polyline points="127.6,861.8 156.5,872.0 166.7,888.0 168.2,883.6 178.7,888.6 183.6,871.4 187.4,874.0 193.6,913.4 197.1,875.5 208.2,905.8 214.3,887.2 218.1,836.0 222.5,866.1 229.8,846.6 242.9,855.0 247.9,812.4 256.7,821.8 256.7,863.8 256.7,847.7 267.6,909.8 267.6,932.7 308.7,855.8 311.6,839.5 321.9,838.0 323.3,851.8 337.3,855.0 359.2,826.9 379.7,833.6 379.7,844.7 392.8,837.2 413.0,828.1 453.0,806.0 461.8,830.7 488.0,791.0" fill="none" stroke="#1d1d4b" stroke-width="1.0" stroke-linejoin="round"/>
<g fill="#1d1d4b">
<ellipse cx="127.6" cy="861.8" rx="2.50" ry="1.80"/><ellipse cx="156.5" cy="872.0" rx="2.50" ry="1.80"/><ellipse cx="166.7" cy="888.0" rx="2.50" ry="1.80"/><ellipse cx="168.2" cy="883.6" rx="2.50" ry="1.80"/><ellipse cx="178.7" cy="888.6" rx="2.50" ry="1.80"/><ellipse cx="183.6" cy="871.4" rx="2.50" ry="1.80"/><ellipse cx="187.4" cy="874.0" rx="2.50" ry="1.80"/><ellipse cx="193.6" cy="913.4" rx="2.50" ry="1.80"/><ellipse cx="197.1" cy="875.5" rx="2.50" ry="1.80"/><ellipse cx="208.2" cy="905.8" rx="2.50" ry="1.80"/><ellipse cx="214.3" cy="887.2" rx="2.50" ry="1.80"/><ellipse cx="218.1" cy="836.0" rx="2.50" ry="1.80"/><ellipse cx="222.5" cy="866.1" rx="2.50" ry="1.80"/><ellipse cx="229.8" cy="846.6" rx="2.50" ry="1.80"/><ellipse cx="242.9" cy="855.0" rx="2.50" ry="1.80"/><ellipse cx="247.9" cy="812.4" rx="2.50" ry="1.80"/><ellipse cx="256.7" cy="821.8" rx="2.50" ry="1.80"/><ellipse cx="256.7" cy="863.8" rx="2.50" ry="1.80"/><ellipse cx="256.7" cy="847.7" rx="2.50" ry="1.80"/><ellipse cx="267.6" cy="909.8" rx="2.50" ry="1.80"/><ellipse cx="267.6" cy="932.7" rx="2.50" ry="1.80"/><ellipse cx="308.7" cy="855.8" rx="2.50" ry="1.80"/><ellipse cx="311.6" cy="839.5" rx="2.50" ry="1.80"/><ellipse cx="321.9" cy="838.0" rx="2.50" ry="1.80"/><ellipse cx="323.3" cy="851.8" rx="2.50" ry="1.80"/><ellipse cx="337.3" cy="855.0" rx="2.50" ry="1.80"/><ellipse cx="359.2" cy="826.9" rx="2.50" ry="1.80"/><ellipse cx="379.7" cy="833.6" rx="2.50" ry="1.80"/><ellipse cx="379.7" cy="844.7" rx="2.50" ry="1.80"/><ellipse cx="392.8" cy="837.2" rx="2.50" ry="1.80"/><ellipse cx="413.0" cy="828.1" rx="2.50" ry="1.80"/><ellipse cx="453.0" cy="806.0" rx="2.50" ry="1.80"/><ellipse cx="461.8" cy="830.7" rx="2.50" ry="1.80"/><ellipse cx="488.0" cy="791.0" rx="2.50" ry="1.80"/>
</g>
<g stroke="#2e3482" stroke-width="1.4"><line x1="521.5" y1="13.2" x2="528.1" y2="13.2"/><line x1="521.5" y1="38.4" x2="528.1" y2="38.4"/><line x1="521.5" y1="63.7" x2="528.1" y2="63.7"/><line x1="521.5" y1="88.9" x2="528.1" y2="88.9"/><line x1="521.5" y1="114.1" x2="528.1" y2="114.1"/><line x1="521.5" y1="139.4" x2="528.1" y2="139.4"/><line x1="521.5" y1="164.6" x2="528.1" y2="164.6"/></g>
<g stroke="#ad7aa7" stroke-width="1.4"><line x1="80.2" y1="90.0" x2="86.8" y2="90.0"/><line x1="80.2" y1="118.4" x2="86.8" y2="118.4"/><line x1="80.2" y1="146.8" x2="86.8" y2="146.8"/><line x1="80.2" y1="175.2" x2="86.8" y2="175.2"/><line x1="80.2" y1="203.6" x2="86.8" y2="203.6"/><line x1="80.2" y1="232.0" x2="86.8" y2="232.0"/><line x1="80.2" y1="260.4" x2="86.8" y2="260.4"/><line x1="80.2" y1="288.8" x2="86.8" y2="288.8"/></g>
<g stroke="#3a6a2f" stroke-width="1.4"><line x1="521.5" y1="267.6" x2="528.1" y2="267.6"/><line x1="521.5" y1="288.1" x2="528.1" y2="288.1"/><line x1="521.5" y1="308.5" x2="528.1" y2="308.5"/><line x1="521.5" y1="329.0" x2="528.1" y2="329.0"/><line x1="521.5" y1="349.5" x2="528.1" y2="349.5"/><line x1="521.5" y1="370.0" x2="528.1" y2="370.0"/><line x1="521.5" y1="390.4" x2="528.1" y2="390.4"/><line x1="521.5" y1="410.9" x2="528.1" y2="410.9"/></g>
<g stroke="#dca42a" stroke-width="1.4"><line x1="80.2" y1="356.0" x2="86.8" y2="356.0"/><line x1="80.2" y1="387.9" x2="86.8" y2="387.9"/><line x1="80.2" y1="419.8" x2="86.8" y2="419.8"/><line x1="80.2" y1="451.6" x2="86.8" y2="451.6"/><line x1="80.2" y1="483.5" x2="86.8" y2="483.5"/></g>
<g stroke="#605ba8" stroke-width="1.4"><line x1="521.5" y1="464.1" x2="528.1" y2="464.1"/><line x1="521.5" y1="492.4" x2="528.1" y2="492.4"/><line x1="521.5" y1="520.7" x2="528.1" y2="520.7"/><line x1="521.5" y1="549.0" x2="528.1" y2="549.0"/><line x1="521.5" y1="577.2" x2="528.1" y2="577.2"/><line x1="521.5" y1="605.5" x2="528.1" y2="605.5"/><line x1="521.5" y1="633.8" x2="528.1" y2="633.8"/></g>
<g stroke="#b73a37" stroke-width="1.4"><line x1="80.2" y1="554.6" x2="86.8" y2="554.6"/><line x1="80.2" y1="573.8" x2="86.8" y2="573.8"/><line x1="80.2" y1="593.1" x2="86.8" y2="593.1"/><line x1="80.2" y1="612.3" x2="86.8" y2="612.3"/><line x1="80.2" y1="631.5" x2="86.8" y2="631.5"/><line x1="80.2" y1="650.7" x2="86.8" y2="650.7"/><line x1="80.2" y1="670.0" x2="86.8" y2="670.0"/><line x1="80.2" y1="689.2" x2="86.8" y2="689.2"/></g>
<g stroke="#e6bd58" stroke-width="1.4"><line x1="522.7" y1="669.4" x2="528.9" y2="669.4"/><line x1="522.7" y1="696.9" x2="528.9" y2="696.9"/><line x1="522.7" y1="724.4" x2="528.9" y2="724.4"/><line x1="522.7" y1="751.8" x2="528.9" y2="751.8"/><line x1="522.7" y1="779.3" x2="528.9" y2="779.3"/><line x1="522.7" y1="806.8" x2="528.9" y2="806.8"/></g>
<g stroke="#1d1d4b" stroke-width="1.4"><line x1="79.6" y1="783.4" x2="86.8" y2="783.4"/><line x1="79.6" y1="806.9" x2="86.8" y2="806.9"/><line x1="79.6" y1="830.4" x2="86.8" y2="830.4"/><line x1="79.6" y1="853.9" x2="86.8" y2="853.9"/><line x1="79.6" y1="877.4" x2="86.8" y2="877.4"/><line x1="79.6" y1="900.9" x2="86.8" y2="900.9"/><line x1="79.6" y1="924.4" x2="86.8" y2="924.4"/><line x1="79.6" y1="947.9" x2="86.8" y2="947.9"/></g>
<g stroke="#d97a6c" stroke-width="1.4"><line x1="521.5" y1="869.9" x2="528.1" y2="869.9"/><line x1="521.5" y1="902.8" x2="528.1" y2="902.8"/><line x1="521.5" y1="935.7" x2="528.1" y2="935.7"/><line x1="521.5" y1="968.7" x2="528.1" y2="968.7"/><line x1="521.5" y1="1001.6" x2="528.1" y2="1001.6"/><line x1="521.5" y1="1034.5" x2="528.1" y2="1034.5"/></g>
<g stroke="#9797d1" stroke-width="1.4"><line x1="80.2" y1="1038.5" x2="86.8" y2="1038.5"/><line x1="80.2" y1="1063.3" x2="86.8" y2="1063.3"/><line x1="80.2" y1="1088.2" x2="86.8" y2="1088.2"/><line x1="80.2" y1="1113.0" x2="86.8" y2="1113.0"/><line x1="80.2" y1="1137.8" x2="86.8" y2="1137.8"/><line x1="80.2" y1="1162.6" x2="86.8" y2="1162.6"/><line x1="80.2" y1="1187.5" x2="86.8" y2="1187.5"/><line x1="80.2" y1="1212.3" x2="86.8" y2="1212.3"/></g>
<g stroke="#a6a83a" stroke-width="1.4"><line x1="523.0" y1="1111.0" x2="529.6" y2="1111.0"/><line x1="523.0" y1="1137.9" x2="529.6" y2="1137.9"/><line x1="523.0" y1="1164.9" x2="529.6" y2="1164.9"/><line x1="523.0" y1="1191.9" x2="529.6" y2="1191.9"/><line x1="523.0" y1="1218.9" x2="529.6" y2="1218.9"/><line x1="523.0" y1="1245.9" x2="529.6" y2="1245.9"/><line x1="523.0" y1="1272.9" x2="529.6" y2="1272.9"/></g>
<g stroke="#7e7e7e" stroke-width="1.05" fill="none">
<path d="M86.8,1288.1 V1.5 H521.5 V1288.1"/>
<line x1="86.2" y1="1288.1" x2="522.1" y2="1288.1"/>
<line x1="86.8" y1="1288.1" x2="86.8" y2="1294.6"/>
<line x1="120.2" y1="1288.1" x2="120.2" y2="1294.6"/>
<line x1="120.2" y1="1.5" x2="120.2" y2="7.9"/>
<line x1="153.7" y1="1288.1" x2="153.7" y2="1294.6"/>
<line x1="153.7" y1="1.5" x2="153.7" y2="7.9"/>
<line x1="187.1" y1="1288.1" x2="187.1" y2="1294.6"/>
<line x1="187.1" y1="1.5" x2="187.1" y2="7.9"/>
<line x1="220.6" y1="1288.1" x2="220.6" y2="1294.6"/>
<line x1="220.6" y1="1.5" x2="220.6" y2="7.9"/>
<line x1="254.0" y1="1288.1" x2="254.0" y2="1294.6"/>
<line x1="254.0" y1="1.5" x2="254.0" y2="7.9"/>
<line x1="287.4" y1="1288.1" x2="287.4" y2="1294.6"/>
<line x1="287.4" y1="1.5" x2="287.4" y2="7.9"/>
<line x1="320.9" y1="1288.1" x2="320.9" y2="1294.6"/>
<line x1="320.9" y1="1.5" x2="320.9" y2="7.9"/>
<line x1="354.3" y1="1288.1" x2="354.3" y2="1294.6"/>
<line x1="354.3" y1="1.5" x2="354.3" y2="7.9"/>
<line x1="387.7" y1="1288.1" x2="387.7" y2="1294.6"/>
<line x1="387.7" y1="1.5" x2="387.7" y2="7.9"/>
<line x1="421.2" y1="1288.1" x2="421.2" y2="1294.6"/>
<line x1="421.2" y1="1.5" x2="421.2" y2="7.9"/>
<line x1="454.6" y1="1288.1" x2="454.6" y2="1294.6"/>
<line x1="454.6" y1="1.5" x2="454.6" y2="7.9"/>
<line x1="488.1" y1="1288.1" x2="488.1" y2="1294.6"/>
<line x1="488.1" y1="1.5" x2="488.1" y2="7.9"/>
<line x1="521.5" y1="1288.1" x2="521.5" y2="1294.6"/>
</g>
<g opacity="0.999">
<text x="540.2" y="44.4" font-size="17.8" fill="#2e3482" stroke="#2e3482" stroke-width="0.22" textLength="37.6" lengthAdjust="spacingAndGlyphs">-34.0</text>
<text x="540.2" y="94.7" font-size="17.8" fill="#2e3482" stroke="#2e3482" stroke-width="0.22" textLength="37.6" lengthAdjust="spacingAndGlyphs">-35.0</text>
<text x="540.2" y="145.1" font-size="17.8" fill="#2e3482" stroke="#2e3482" stroke-width="0.22" textLength="37.6" lengthAdjust="spacingAndGlyphs">-36.0</text>
<text x="68.4" y="127.1" text-anchor="end" font-size="17.8" fill="#ad7aa7" stroke="#ad7aa7" stroke-width="0.22" textLength="28.2" lengthAdjust="spacingAndGlyphs">-5.0</text>
<text x="68.4" y="180.1" text-anchor="end" font-size="17.8" fill="#ad7aa7" stroke="#ad7aa7" stroke-width="0.22" textLength="28.2" lengthAdjust="spacingAndGlyphs">-6.0</text>
<text x="68.4" y="237.5" text-anchor="end" font-size="17.8" fill="#ad7aa7" stroke="#ad7aa7" stroke-width="0.22" textLength="28.2" lengthAdjust="spacingAndGlyphs">-7.0</text>
<text x="68.4" y="293.5" text-anchor="end" font-size="17.8" fill="#ad7aa7" stroke="#ad7aa7" stroke-width="0.22" textLength="28.2" lengthAdjust="spacingAndGlyphs">-8.0</text>
<text x="540.2" y="293.8" font-size="17.8" fill="#3a6a2f" stroke="#3a6a2f" stroke-width="0.22" textLength="28.2" lengthAdjust="spacingAndGlyphs">-3.5</text>
<text x="540.2" y="335.0" font-size="17.8" fill="#3a6a2f" stroke="#3a6a2f" stroke-width="0.22" textLength="28.2" lengthAdjust="spacingAndGlyphs">-4.0</text>
<text x="540.2" y="375.8" font-size="17.8" fill="#3a6a2f" stroke="#3a6a2f" stroke-width="0.22" textLength="28.2" lengthAdjust="spacingAndGlyphs">-4.5</text>
<text x="540.2" y="416.7" font-size="17.8" fill="#3a6a2f" stroke="#3a6a2f" stroke-width="0.22" textLength="28.2" lengthAdjust="spacingAndGlyphs">-5.0</text>
<text x="68.4" y="364.6" text-anchor="end" font-size="17.8" fill="#dca42a" stroke="#dca42a" stroke-width="0.22" textLength="28.2" lengthAdjust="spacingAndGlyphs">-8.0</text>
<text x="68.4" y="424.9" text-anchor="end" font-size="17.8" fill="#dca42a" stroke="#dca42a" stroke-width="0.22" textLength="28.2" lengthAdjust="spacingAndGlyphs">-8.5</text>
<text x="68.4" y="486.0" text-anchor="end" font-size="17.8" fill="#dca42a" stroke="#dca42a" stroke-width="0.22" textLength="28.2" lengthAdjust="spacingAndGlyphs">-9.0</text>
<text x="540.2" y="499.9" font-size="17.8" fill="#605ba8" stroke="#605ba8" stroke-width="0.22" textLength="28.2" lengthAdjust="spacingAndGlyphs">-1.5</text>
<text x="540.2" y="554.7" font-size="17.8" fill="#605ba8" stroke="#605ba8" stroke-width="0.22" textLength="28.2" lengthAdjust="spacingAndGlyphs">-2.0</text>
<text x="540.2" y="612.0" font-size="17.8" fill="#605ba8" stroke="#605ba8" stroke-width="0.22" textLength="28.2" lengthAdjust="spacingAndGlyphs">-2.5</text>
<text x="68.4" y="581.3" text-anchor="end" font-size="17.8" fill="#b73a37" stroke="#b73a37" stroke-width="0.22" textLength="28.2" lengthAdjust="spacingAndGlyphs">-1.0</text>
<text x="68.4" y="618.5" text-anchor="end" font-size="17.8" fill="#b73a37" stroke="#b73a37" stroke-width="0.22" textLength="28.2" lengthAdjust="spacingAndGlyphs">-0.5</text>
<text x="68.4" y="657.0" text-anchor="end" font-size="17.8" fill="#b73a37" stroke="#b73a37" stroke-width="0.22" textLength="22.0" lengthAdjust="spacingAndGlyphs">0.0</text>
<text x="68.4" y="697.1" text-anchor="end" font-size="17.8" fill="#b73a37" stroke="#b73a37" stroke-width="0.22" textLength="22.0" lengthAdjust="spacingAndGlyphs">0.5</text>
<text x="540.2" y="671.5" font-size="17.8" fill="#e6bd58" stroke="#e6bd58" stroke-width="0.22" textLength="28.2" lengthAdjust="spacingAndGlyphs">-5.5</text>
<text x="540.2" y="730.9" font-size="17.8" fill="#e6bd58" stroke="#e6bd58" stroke-width="0.22" textLength="28.2" lengthAdjust="spacingAndGlyphs">-6.0</text>
<text x="540.2" y="785.3" font-size="17.8" fill="#e6bd58" stroke="#e6bd58" stroke-width="0.22" textLength="28.2" lengthAdjust="spacingAndGlyphs">-6.5</text>
<text x="68.4" y="811.1" text-anchor="end" font-size="17.8" fill="#17171f" stroke="#17171f" stroke-width="0.22" textLength="28.2" lengthAdjust="spacingAndGlyphs">-1.0</text>
<text x="68.4" y="861.7" text-anchor="end" font-size="17.8" fill="#17171f" stroke="#17171f" stroke-width="0.22" textLength="28.2" lengthAdjust="spacingAndGlyphs">-2.0</text>
<text x="68.4" y="907.5" text-anchor="end" font-size="17.8" fill="#17171f" stroke="#17171f" stroke-width="0.22" textLength="28.2" lengthAdjust="spacingAndGlyphs">-3.0</text>
<text x="68.4" y="953.8" text-anchor="end" font-size="17.8" fill="#17171f" stroke="#17171f" stroke-width="0.22" textLength="28.2" lengthAdjust="spacingAndGlyphs">-4.0</text>
<text x="540.2" y="878.0" font-size="17.8" fill="#d97a6c" stroke="#d97a6c" stroke-width="0.22" textLength="28.2" lengthAdjust="spacingAndGlyphs">-7.0</text>
<text x="540.2" y="940.8" font-size="17.8" fill="#d97a6c" stroke="#d97a6c" stroke-width="0.22" textLength="28.2" lengthAdjust="spacingAndGlyphs">-7.5</text>
<text x="540.2" y="1008.2" font-size="17.8" fill="#d97a6c" stroke="#d97a6c" stroke-width="0.22" textLength="28.2" lengthAdjust="spacingAndGlyphs">-8.0</text>
<text x="68.4" y="1046.0" text-anchor="end" font-size="17.8" fill="#9797d1" stroke="#9797d1" stroke-width="0.22" textLength="28.2" lengthAdjust="spacingAndGlyphs">-4.0</text>
<text x="68.4" y="1094.2" text-anchor="end" font-size="17.8" fill="#9797d1" stroke="#9797d1" stroke-width="0.22" textLength="28.2" lengthAdjust="spacingAndGlyphs">-5.0</text>
<text x="68.4" y="1140.5" text-anchor="end" font-size="17.8" fill="#9797d1" stroke="#9797d1" stroke-width="0.22" textLength="28.2" lengthAdjust="spacingAndGlyphs">-6.0</text>
<text x="68.4" y="1194.4" text-anchor="end" font-size="17.8" fill="#9797d1" stroke="#9797d1" stroke-width="0.22" textLength="28.2" lengthAdjust="spacingAndGlyphs">-7.0</text>
<text x="540.2" y="1113.3" font-size="17.8" fill="#a6a83a" stroke="#a6a83a" stroke-width="0.22" textLength="28.2" lengthAdjust="spacingAndGlyphs">-6.0</text>
<text x="540.2" y="1168.7" font-size="17.8" fill="#a6a83a" stroke="#a6a83a" stroke-width="0.22" textLength="28.2" lengthAdjust="spacingAndGlyphs">-7.0</text>
<text x="540.2" y="1222.0" font-size="17.8" fill="#a6a83a" stroke="#a6a83a" stroke-width="0.22" textLength="28.2" lengthAdjust="spacingAndGlyphs">-8.0</text>
<text x="540.2" y="1279.3" font-size="17.8" fill="#a6a83a" stroke="#a6a83a" stroke-width="0.22" textLength="28.2" lengthAdjust="spacingAndGlyphs">-9.0</text>
<text x="120.2" y="1310.8" text-anchor="middle" font-size="16.3" fill="#4a4a4a" stroke="#4a4a4a" stroke-width="0.2" textLength="19.4" lengthAdjust="spacingAndGlyphs">8.4</text>
<text x="187.1" y="1310.8" text-anchor="middle" font-size="16.3" fill="#4a4a4a" stroke="#4a4a4a" stroke-width="0.2" textLength="19.4" lengthAdjust="spacingAndGlyphs">8.2</text>
<text x="254.0" y="1310.8" text-anchor="middle" font-size="16.3" fill="#4a4a4a" stroke="#4a4a4a" stroke-width="0.2" textLength="19.4" lengthAdjust="spacingAndGlyphs">8.0</text>
<text x="320.9" y="1310.8" text-anchor="middle" font-size="16.3" fill="#4a4a4a" stroke="#4a4a4a" stroke-width="0.2" textLength="19.4" lengthAdjust="spacingAndGlyphs">7.8</text>
<text x="387.7" y="1310.8" text-anchor="middle" font-size="16.3" fill="#4a4a4a" stroke="#4a4a4a" stroke-width="0.2" textLength="19.4" lengthAdjust="spacingAndGlyphs">7.6</text>
<text x="454.6" y="1310.8" text-anchor="middle" font-size="16.3" fill="#4a4a4a" stroke="#4a4a4a" stroke-width="0.2" textLength="19.4" lengthAdjust="spacingAndGlyphs">7.4</text>
<text x="521.5" y="1310.8" text-anchor="middle" font-size="16.3" fill="#4a4a4a" stroke="#4a4a4a" stroke-width="0.2" textLength="19.4" lengthAdjust="spacingAndGlyphs">7.2</text>
<text class="b" transform="translate(596.2,22.7) rotate(90)" fill="#2e3482" stroke="#2e3482" stroke-width="0.35" font-size="16"><tspan x="-0.4" y="0">δ</tspan><tspan x="10.9" y="-5.6" font-size="9.0" textLength="9.4" lengthAdjust="spacingAndGlyphs">18</tspan><tspan x="20.8" y="0" textLength="13.8" lengthAdjust="spacingAndGlyphs">O</tspan><tspan x="38.3" y="0">(</tspan><tspan x="45.9" y="0" textLength="17.9" lengthAdjust="spacingAndGlyphs">‰</tspan><tspan x="66.8" y="0" textLength="68.6" lengthAdjust="spacingAndGlyphs">VSMOW)</tspan></text>
<text class="b" transform="translate(20.3,249.0) rotate(-90)" fill="#ad7aa7" stroke="#ad7aa7" stroke-width="0.35" font-size="16"><tspan x="-0.5" y="0">δ</tspan><tspan x="11.0" y="-5.6" font-size="9.0" textLength="9.2" lengthAdjust="spacingAndGlyphs">18</tspan><tspan x="19.9" y="0" textLength="13.4" lengthAdjust="spacingAndGlyphs">O</tspan><tspan x="37.4" y="0">(</tspan><tspan x="44.8" y="0" textLength="18.4" lengthAdjust="spacingAndGlyphs">‰</tspan><tspan x="65.8" y="0" textLength="49.6" lengthAdjust="spacingAndGlyphs">VPDB)</tspan></text>
<text class="b" transform="translate(596.2,296.4) rotate(90)" fill="#3a6a2f" stroke="#3a6a2f" stroke-width="0.35" font-size="16"><tspan x="-0.5" y="0">δ</tspan><tspan x="11.0" y="-5.6" font-size="9.0" textLength="9.2" lengthAdjust="spacingAndGlyphs">18</tspan><tspan x="19.9" y="0" textLength="13.4" lengthAdjust="spacingAndGlyphs">O</tspan><tspan x="37.4" y="0">(</tspan><tspan x="44.8" y="0" textLength="18.4" lengthAdjust="spacingAndGlyphs">‰</tspan><tspan x="65.8" y="0" textLength="49.6" lengthAdjust="spacingAndGlyphs">VPDB)</tspan></text>
<text class="b" transform="translate(20.3,472.8) rotate(-90)" fill="#dca42a" stroke="#dca42a" stroke-width="0.35" font-size="16"><tspan x="-0.5" y="0">δ</tspan><tspan x="11.0" y="-5.6" font-size="9.0" textLength="9.2" lengthAdjust="spacingAndGlyphs">18</tspan><tspan x="19.9" y="0" textLength="13.4" lengthAdjust="spacingAndGlyphs">O</tspan><tspan x="37.4" y="0">(</tspan><tspan x="44.8" y="0" textLength="18.4" lengthAdjust="spacingAndGlyphs">‰</tspan><tspan x="65.8" y="0" textLength="49.6" lengthAdjust="spacingAndGlyphs">VPDB)</tspan></text>
<text class="b" transform="translate(596.2,493.8) rotate(90)" fill="#605ba8" stroke="#605ba8" stroke-width="0.35" font-size="16"><tspan x="-0.5" y="0">δ</tspan><tspan x="11.0" y="-5.6" font-size="9.0" textLength="9.2" lengthAdjust="spacingAndGlyphs">18</tspan><tspan x="19.9" y="0" textLength="13.4" lengthAdjust="spacingAndGlyphs">O</tspan><tspan x="37.4" y="0">(</tspan><tspan x="44.8" y="0" textLength="18.4" lengthAdjust="spacingAndGlyphs">‰</tspan><tspan x="65.8" y="0" textLength="49.6" lengthAdjust="spacingAndGlyphs">VPDB)</tspan></text>
<text class="b" transform="translate(20.3,680.6) rotate(-90)" fill="#b73a37" stroke="#b73a37" stroke-width="0.35" font-size="16"><tspan x="-0.5" y="0">δ</tspan><tspan x="11.0" y="-5.6" font-size="9.0" textLength="9.2" lengthAdjust="spacingAndGlyphs">18</tspan><tspan x="19.9" y="0" textLength="13.4" lengthAdjust="spacingAndGlyphs">O</tspan><tspan x="37.4" y="0">(</tspan><tspan x="44.8" y="0" textLength="18.4" lengthAdjust="spacingAndGlyphs">‰</tspan><tspan x="65.8" y="0" textLength="49.6" lengthAdjust="spacingAndGlyphs">VPDB)</tspan></text>
<text class="b" transform="translate(596.2,671.4) rotate(90)" fill="#e6bd58" stroke="#e6bd58" stroke-width="0.35" font-size="16"><tspan x="-0.5" y="0">δ</tspan><tspan x="11.0" y="-5.6" font-size="9.0" textLength="9.2" lengthAdjust="spacingAndGlyphs">18</tspan><tspan x="19.9" y="0" textLength="13.4" lengthAdjust="spacingAndGlyphs">O</tspan><tspan x="37.4" y="0">(</tspan><tspan x="44.8" y="0" textLength="18.4" lengthAdjust="spacingAndGlyphs">‰</tspan><tspan x="65.8" y="0" textLength="49.6" lengthAdjust="spacingAndGlyphs">VPDB)</tspan></text>
<text class="b" transform="translate(20.3,934.5) rotate(-90)" fill="#1d1d4b" stroke="#1d1d4b" stroke-width="0.35" font-size="17.8"><tspan x="-0.5" y="0">δ</tspan><tspan x="12.0" y="-6.2" font-size="10.0" textLength="10.2" lengthAdjust="spacingAndGlyphs">13</tspan><tspan x="22.6" y="0" textLength="11.9" lengthAdjust="spacingAndGlyphs">C</tspan><tspan x="38.5" y="0">(</tspan><tspan x="47.4" y="0" textLength="20.8" lengthAdjust="spacingAndGlyphs">‰</tspan><tspan x="70.1" y="0" textLength="57.3" lengthAdjust="spacingAndGlyphs">VPDB)</tspan></text>
<text class="b" transform="translate(596.2,880.7) rotate(90)" fill="#d97a6c" stroke="#d97a6c" stroke-width="0.35" font-size="16"><tspan x="-0.5" y="0">δ</tspan><tspan x="11.0" y="-5.6" font-size="9.0" textLength="9.2" lengthAdjust="spacingAndGlyphs">18</tspan><tspan x="19.9" y="0" textLength="13.4" lengthAdjust="spacingAndGlyphs">O</tspan><tspan x="37.4" y="0">(</tspan><tspan x="44.8" y="0" textLength="18.4" lengthAdjust="spacingAndGlyphs">‰</tspan><tspan x="65.8" y="0" textLength="49.6" lengthAdjust="spacingAndGlyphs">VPDB)</tspan></text>
<text class="b" transform="translate(20.3,1164.0) rotate(-90)" fill="#9797d1" stroke="#9797d1" stroke-width="0.35" font-size="16"><tspan x="-0.5" y="0">δ</tspan><tspan x="11.0" y="-5.6" font-size="9.0" textLength="9.2" lengthAdjust="spacingAndGlyphs">18</tspan><tspan x="19.9" y="0" textLength="13.4" lengthAdjust="spacingAndGlyphs">O</tspan><tspan x="37.4" y="0">(</tspan><tspan x="44.8" y="0" textLength="18.4" lengthAdjust="spacingAndGlyphs">‰</tspan><tspan x="65.8" y="0" textLength="49.6" lengthAdjust="spacingAndGlyphs">VPDB)</tspan></text>
<text class="b" transform="translate(596.2,1142.4) rotate(90)" fill="#a6a83a" stroke="#a6a83a" stroke-width="0.35" font-size="16"><tspan x="-0.5" y="0">δ</tspan><tspan x="11.0" y="-5.6" font-size="9.0" textLength="9.2" lengthAdjust="spacingAndGlyphs">18</tspan><tspan x="19.9" y="0" textLength="13.4" lengthAdjust="spacingAndGlyphs">O</tspan><tspan x="37.4" y="0">(</tspan><tspan x="44.8" y="0" textLength="18.4" lengthAdjust="spacingAndGlyphs">‰</tspan><tspan x="65.8" y="0" textLength="49.6" lengthAdjust="spacingAndGlyphs">VPDB)</tspan></text>
<text x="456" y="29.4" font-size="16" fill="#2e3482" stroke="#2e3482" stroke-width="0.2" textLength="46.8" lengthAdjust="spacingAndGlyphs">NGRIP</text>
<text x="455.6" y="145.7" font-size="16" fill="#ad7aa7" stroke="#ad7aa7" stroke-width="0.2" textLength="37.8" lengthAdjust="spacingAndGlyphs">Kaite</text>
<text x="421.7" y="349.9" font-size="16" fill="#3a6a2f" stroke="#3a6a2f" stroke-width="0.2" textLength="78.6" lengthAdjust="spacingAndGlyphs">Lake Riwasa</text>
<text x="455.6" y="486.4" font-size="16" fill="#dca42a" stroke="#dca42a" stroke-width="0.2" textLength="52.9" lengthAdjust="spacingAndGlyphs">Dongge</text>
<text x="467.4" y="593.8" font-size="16" fill="#605ba8" stroke="#605ba8" stroke-width="0.2" textLength="32.6" lengthAdjust="spacingAndGlyphs">Qunf</text>
<text x="475.5" y="624.1" font-size="16" fill="#b73a37" stroke="#b73a37" stroke-width="0.2" textLength="33.2" lengthAdjust="spacingAndGlyphs">723A</text>
<text x="475.5" y="679.2" font-size="16" fill="#e6bd58" stroke="#e6bd58" stroke-width="0.2" textLength="36.8" lengthAdjust="spacingAndGlyphs">Klang</text>
<text x="440.6" y="852.5" font-size="14.6" fill="#1c1f45" stroke="#1c1f45" stroke-width="0.2" textLength="64.6" lengthAdjust="spacingAndGlyphs">MSBH01B</text>
<text x="455.3" y="920.3" font-size="16" fill="#d97a6c" stroke="#d97a6c" stroke-width="0.2" textLength="47.7" lengthAdjust="spacingAndGlyphs">Tangga</text>
<text x="421.3" y="1088.0" font-size="16" fill="#9797d1" stroke="#9797d1" stroke-width="0.2" textLength="83.4" lengthAdjust="spacingAndGlyphs">Lapa Grande</text>
<text x="449.8" y="1245.8" font-size="16" fill="#a6a83a" stroke="#a6a83a" stroke-width="0.2" textLength="59.1" lengthAdjust="spacingAndGlyphs">Botuvera</text>
<text x="97.5" y="836.2" font-size="12.8" fill="#111" stroke="#111" stroke-width="0.2" textLength="18.6" lengthAdjust="spacingAndGlyphs">Dry</text>
<text x="96.8" y="892.9" font-size="12.8" fill="#111" stroke="#111" stroke-width="0.2" textLength="20.8" lengthAdjust="spacingAndGlyphs">Wet</text>
<g stroke="#111" stroke-width="1.0" fill="none" stroke-linecap="round" stroke-linejoin="round"><path d="M106.5,845.2V875.4M103.4,849.2L106.5,845L109.6,849.2M103.4,871.4L106.5,875.6L109.6,871.4"/></g>
<text class="b" x="631.2" y="76.4" text-anchor="middle" font-size="21.5" fill="#2e3482">+</text>
<text class="b" x="631.3" y="118" text-anchor="middle" font-size="19" fill="#2e3482">-</text>
<g stroke="#2e3482" stroke-width="0.9" fill="none" stroke-linecap="round" stroke-linejoin="round"><path d="M631.4,80.9V102.3M628.1,84.8L631.4,80.7L634.7,84.8M628.1,98.4L631.4,102.5L634.7,98.4"/></g>
<text x="644" y="96.6" font-size="16.2" fill="#2e3482" stroke="#2e3482" stroke-width="0.2" textLength="40.5" lengthAdjust="spacingAndGlyphs">Temp.</text>
</g>
</svg></body></html>
